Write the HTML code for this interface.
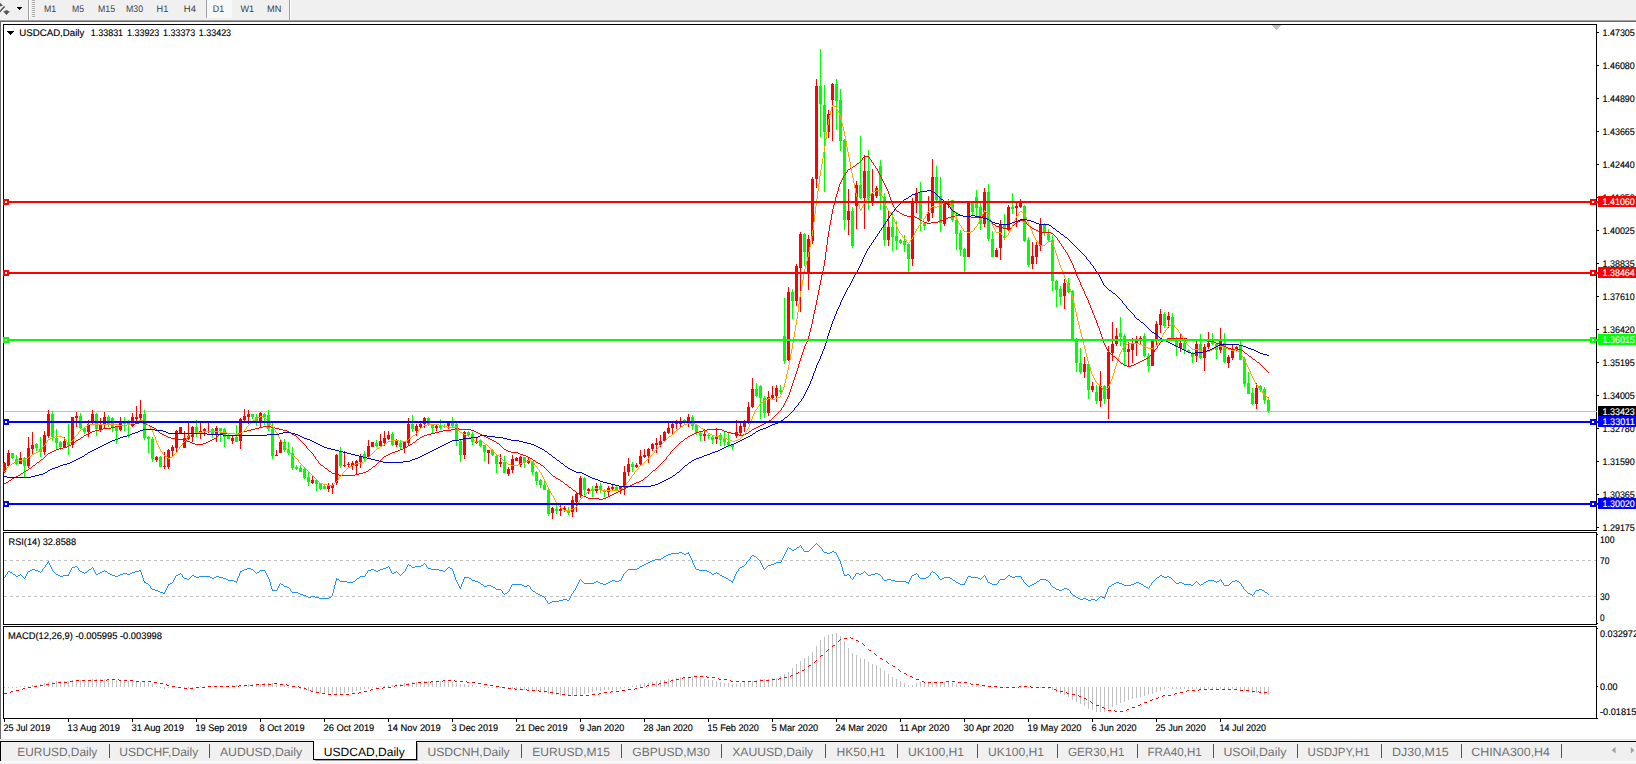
<!DOCTYPE html>
<html><head><meta charset="utf-8"><title>USDCAD,Daily</title>
<style>html,body{margin:0;padding:0;background:#fff;overflow:hidden}svg{display:block;font-family:"Liberation Sans", sans-serif}text{font-family:"Liberation Sans", sans-serif;white-space:pre;text-rendering:geometricPrecision}</style>
</head><body>
<svg width="1636" height="764" viewBox="0 0 1636 764"><rect x="0" y="0" width="1636" height="764" fill="#fff" />
<rect x="0" y="0" width="1636" height="20" fill="#f0f0f0" />
<rect x="0" y="20" width="1636" height="1" fill="#a0a0a0" />
<rect x="0" y="21" width="1636" height="1" fill="#696969" />
<g shape-rendering="crispEdges">
<rect x="0" y="22" width="1" height="717" fill="#696969" />
<rect x="3" y="24" width="1594" height="1" fill="#000" />
<rect x="3" y="24" width="1" height="507" fill="#000" />
<rect x="1596" y="24" width="1" height="507" fill="#000" />
<rect x="3" y="530" width="1594" height="1" fill="#000" />
<rect x="3" y="532" width="1594" height="1" fill="#000" />
<rect x="3" y="532" width="1" height="93" fill="#000" />
<rect x="1596" y="532" width="1" height="93" fill="#000" />
<rect x="3" y="624" width="1594" height="1" fill="#000" />
<rect x="3" y="626" width="1594" height="1" fill="#000" />
<rect x="3" y="626" width="1" height="93" fill="#000" />
<rect x="1596" y="626" width="1" height="93" fill="#000" />
<rect x="3" y="718" width="1594" height="1" fill="#000" />
</g>
<g font-family='"Liberation Sans", sans-serif'>
<rect x="1597" y="32" width="2" height="1" fill="#000" shape-rendering="crispEdges"/>
<text x="1602.5" y="36" font-size="9.6" fill="#000" stroke="#000" stroke-width="0.15" textLength="32.3" lengthAdjust="spacingAndGlyphs" >1.47305</text>
<rect x="1597" y="65" width="2" height="1" fill="#000" shape-rendering="crispEdges"/>
<text x="1602.5" y="69" font-size="9.6" fill="#000" stroke="#000" stroke-width="0.15" textLength="32.3" lengthAdjust="spacingAndGlyphs" >1.46080</text>
<rect x="1597" y="98" width="2" height="1" fill="#000" shape-rendering="crispEdges"/>
<text x="1602.5" y="102" font-size="9.6" fill="#000" stroke="#000" stroke-width="0.15" textLength="32.3" lengthAdjust="spacingAndGlyphs" >1.44890</text>
<rect x="1597" y="131" width="2" height="1" fill="#000" shape-rendering="crispEdges"/>
<text x="1602.5" y="135" font-size="9.6" fill="#000" stroke="#000" stroke-width="0.15" textLength="32.3" lengthAdjust="spacingAndGlyphs" >1.43665</text>
<rect x="1597" y="164" width="2" height="1" fill="#000" shape-rendering="crispEdges"/>
<text x="1602.5" y="168" font-size="9.6" fill="#000" stroke="#000" stroke-width="0.15" textLength="32.3" lengthAdjust="spacingAndGlyphs" >1.42440</text>
<rect x="1597" y="197" width="2" height="1" fill="#000" shape-rendering="crispEdges"/>
<text x="1602.5" y="201" font-size="9.6" fill="#000" stroke="#000" stroke-width="0.15" textLength="32.3" lengthAdjust="spacingAndGlyphs" >1.41250</text>
<rect x="1597" y="230" width="2" height="1" fill="#000" shape-rendering="crispEdges"/>
<text x="1602.5" y="234" font-size="9.6" fill="#000" stroke="#000" stroke-width="0.15" textLength="32.3" lengthAdjust="spacingAndGlyphs" >1.40025</text>
<rect x="1597" y="263" width="2" height="1" fill="#000" shape-rendering="crispEdges"/>
<text x="1602.5" y="267" font-size="9.6" fill="#000" stroke="#000" stroke-width="0.15" textLength="32.3" lengthAdjust="spacingAndGlyphs" >1.38835</text>
<rect x="1597" y="296" width="2" height="1" fill="#000" shape-rendering="crispEdges"/>
<text x="1602.5" y="300" font-size="9.6" fill="#000" stroke="#000" stroke-width="0.15" textLength="32.3" lengthAdjust="spacingAndGlyphs" >1.37610</text>
<rect x="1597" y="329" width="2" height="1" fill="#000" shape-rendering="crispEdges"/>
<text x="1602.5" y="333" font-size="9.6" fill="#000" stroke="#000" stroke-width="0.15" textLength="32.3" lengthAdjust="spacingAndGlyphs" >1.36420</text>
<rect x="1597" y="362" width="2" height="1" fill="#000" shape-rendering="crispEdges"/>
<text x="1602.5" y="366" font-size="9.6" fill="#000" stroke="#000" stroke-width="0.15" textLength="32.3" lengthAdjust="spacingAndGlyphs" >1.35195</text>
<rect x="1597" y="395" width="2" height="1" fill="#000" shape-rendering="crispEdges"/>
<text x="1602.5" y="399" font-size="9.6" fill="#000" stroke="#000" stroke-width="0.15" textLength="32.3" lengthAdjust="spacingAndGlyphs" >1.34005</text>
<rect x="1597" y="428" width="2" height="1" fill="#000" shape-rendering="crispEdges"/>
<text x="1602.5" y="432" font-size="9.6" fill="#000" stroke="#000" stroke-width="0.15" textLength="32.3" lengthAdjust="spacingAndGlyphs" >1.32780</text>
<rect x="1597" y="461" width="2" height="1" fill="#000" shape-rendering="crispEdges"/>
<text x="1602.5" y="465" font-size="9.6" fill="#000" stroke="#000" stroke-width="0.15" textLength="32.3" lengthAdjust="spacingAndGlyphs" >1.31590</text>
<rect x="1597" y="494" width="2" height="1" fill="#000" shape-rendering="crispEdges"/>
<text x="1602.5" y="498" font-size="9.6" fill="#000" stroke="#000" stroke-width="0.15" textLength="32.3" lengthAdjust="spacingAndGlyphs" >1.30365</text>
<rect x="1597" y="527" width="2" height="1" fill="#000" shape-rendering="crispEdges"/>
<text x="1602.5" y="531" font-size="9.6" fill="#000" stroke="#000" stroke-width="0.15" textLength="32.3" lengthAdjust="spacingAndGlyphs" >1.29175</text>
<rect x="1597" y="534" width="1" height="1" fill="#000" />
<rect x="1597" y="623" width="1" height="1" fill="#000" />
<rect x="1597" y="628" width="1" height="1" fill="#000" />
<rect x="1597" y="718" width="1" height="1" fill="#000" />
<text x="1600" y="543" font-size="9.6" fill="#000" stroke="#000" stroke-width="0.15" textLength="14.5" lengthAdjust="spacingAndGlyphs" >100</text>
<text x="1600" y="564" font-size="9.6" fill="#000" stroke="#000" stroke-width="0.15" textLength="9.5" lengthAdjust="spacingAndGlyphs" >70</text>
<text x="1600" y="600" font-size="9.6" fill="#000" stroke="#000" stroke-width="0.15" textLength="9.5" lengthAdjust="spacingAndGlyphs" >30</text>
<text x="1600" y="621" font-size="9.6" fill="#000" stroke="#000" stroke-width="0.15" textLength="4.6" lengthAdjust="spacingAndGlyphs" >0</text>
<text x="1600" y="637" font-size="9.6" fill="#000" stroke="#000" stroke-width="0.15" textLength="38" lengthAdjust="spacingAndGlyphs" >0.032972</text>
<rect x="1597" y="686" width="1" height="1" fill="#000" />
<text x="1600" y="690" font-size="9.6" fill="#000" stroke="#000" stroke-width="0.15" textLength="17.5" lengthAdjust="spacingAndGlyphs" >0.00</text>
<text x="1600" y="715" font-size="9.6" fill="#000" stroke="#000" stroke-width="0.15" textLength="41.4" lengthAdjust="spacingAndGlyphs" >-0.018157</text>
<g shape-rendering="crispEdges">
<rect x="4" y="411" width="1593" height="1" fill="#c0c0c0" />
</g>
<g shape-rendering="crispEdges">
<path d="M12 453h1v6h-1zM11 453h3v5h-3zM16 455h1v10h-1zM15 459h3v5h-3zM24 457h1v20h-1zM23 458h3v8h-3zM36 443h1v8h-1zM35 444h3v4h-3zM40 437h1v20h-1zM39 449h3v3h-3zM52 411h1v30h-1zM51 414h3v23h-3zM56 429h1v20h-1zM55 438h3v5h-3zM60 441h1v9h-1zM59 442h3v5h-3zM68 424h1v31h-1zM67 442h3v3h-3zM80 413h1v16h-1zM79 416h3v12h-3zM84 427h1v7h-1zM83 428h3v4h-3zM96 413h1v23h-1zM95 414h3v15h-3zM108 415h1v12h-1zM107 417h3v7h-3zM112 417h1v15h-1zM111 418h3v9h-3zM116 426h1v18h-1zM115 427h3v4h-3zM124 417h1v14h-1zM123 423h3v1h-3zM128 420h1v18h-1zM127 423h3v2h-3zM144 410h1v30h-1zM143 414h3v24h-3zM148 436h1v17h-1zM147 437h3v2h-3zM152 437h1v25h-1zM151 439h3v20h-3zM160 456h1v11h-1zM159 457h3v10h-3zM196 420h1v17h-1zM195 427h3v7h-3zM212 428h1v10h-1zM211 429h3v6h-3zM220 428h1v14h-1zM219 428h3v3h-3zM224 428h1v19h-1zM223 429h3v8h-3zM228 434h1v5h-1zM227 435h3v4h-3zM236 425h1v17h-1zM235 437h3v5h-3zM252 414h1v5h-1zM251 414h3v3h-3zM256 414h1v12h-1zM255 417h3v4h-3zM264 413h1v12h-1zM263 414h3v3h-3zM268 410h1v21h-1zM267 415h3v14h-3zM272 423h1v36h-1zM271 429h3v27h-3zM284 439h1v13h-1zM283 442h3v8h-3zM288 442h1v13h-1zM287 450h3v3h-3zM292 447h1v23h-1zM291 453h3v15h-3zM296 465h1v5h-1zM295 467h3v2h-3zM300 465h1v7h-1zM299 468h3v4h-3zM304 468h1v11h-1zM303 469h3v9h-3zM308 471h1v15h-1zM307 477h3v5h-3zM316 479h1v12h-1zM315 480h3v4h-3zM320 483h1v7h-1zM319 483h3v6h-3zM324 484h1v5h-1zM323 486h3v3h-3zM340 447h1v21h-1zM339 451h3v15h-3zM364 451h1v10h-1zM363 454h3v5h-3zM376 440h1v7h-1zM375 443h3v3h-3zM392 432h1v14h-1zM391 434h3v11h-3zM400 440h1v9h-1zM399 443h3v4h-3zM412 415h1v17h-1zM411 424h3v5h-3zM428 417h1v9h-1zM427 418h3v7h-3zM432 425h1v8h-1zM431 425h3v3h-3zM440 419h1v11h-1zM439 425h3v3h-3zM444 424h1v4h-1zM443 426h3v1h-3zM452 417h1v11h-1zM451 423h3v3h-3zM456 423h1v23h-1zM455 424h3v17h-3zM460 439h1v23h-1zM459 441h3v14h-3zM468 431h1v5h-1zM467 432h3v3h-3zM472 432h1v13h-1zM471 434h3v8h-3zM480 439h1v8h-1zM479 441h3v5h-3zM484 445h1v16h-1zM483 445h3v7h-3zM492 449h1v7h-1zM491 450h3v5h-3zM496 454h1v19h-1zM495 456h3v8h-3zM504 456h1v17h-1zM503 462h3v11h-3zM524 457h1v11h-1zM523 457h3v6h-3zM532 461h1v14h-1zM531 461h3v11h-3zM536 471h1v14h-1zM535 472h3v9h-3zM540 479h1v9h-1zM539 480h3v5h-3zM544 480h1v10h-1zM543 485h3v5h-3zM548 489h1v27h-1zM547 490h3v24h-3zM556 505h1v9h-1zM555 509h3v2h-3zM568 507h1v8h-1zM567 510h3v3h-3zM584 477h1v18h-1zM583 478h3v12h-3zM592 486h1v11h-1zM591 489h3v2h-3zM600 483h1v10h-1zM599 486h3v4h-3zM604 489h1v8h-1zM603 490h3v2h-3zM616 485h1v6h-1zM615 487h3v3h-3zM632 462h1v10h-1zM631 464h3v3h-3zM684 419h1v5h-1zM683 420h3v3h-3zM692 415h1v15h-1zM691 417h3v9h-3zM696 424h1v11h-1zM695 425h3v8h-3zM700 431h1v10h-1zM699 433h3v3h-3zM708 434h1v5h-1zM707 435h3v1h-3zM712 435h1v9h-1zM711 437h3v3h-3zM720 433h1v13h-1zM719 435h3v5h-3zM724 432h1v14h-1zM723 439h3v3h-3zM728 432h1v15h-1zM727 442h3v3h-3zM732 444h1v6h-1zM731 444h3v3h-3zM756 383h1v14h-1zM755 389h3v7h-3zM760 385h1v34h-1zM759 386h3v12h-3zM764 396h1v22h-1zM763 398h3v15h-3zM780 385h1v9h-1zM779 390h3v2h-3zM784 298h1v66h-1zM783 336h3v25h-3zM792 289h1v30h-1zM791 292h3v9h-3zM804 233h1v33h-1zM803 234h3v18h-3zM820 49h1v88h-1zM819 86h3v18h-3zM824 85h1v107h-1zM823 105h3v27h-3zM836 79h1v51h-1zM835 84h3v17h-3zM840 89h1v62h-1zM839 100h3v41h-3zM844 139h1v91h-1zM843 140h3v80h-3zM852 207h1v41h-1zM851 211h3v35h-3zM860 136h1v63h-1zM859 185h3v13h-3zM868 150h1v60h-1zM867 171h3v27h-3zM880 160h1v50h-1zM879 166h3v30h-3zM884 193h1v53h-1zM883 197h3v43h-3zM892 213h1v38h-1zM891 227h3v10h-3zM896 221h1v29h-1zM895 236h3v5h-3zM900 239h1v5h-1zM899 240h3v3h-3zM904 235h1v17h-1zM903 241h3v4h-3zM908 243h1v29h-1zM907 244h3v15h-3zM920 182h1v49h-1zM919 192h3v27h-3zM924 222h1v8h-1zM923 223h3v3h-3zM936 166h1v35h-1zM935 177h3v23h-3zM940 177h1v55h-1zM939 196h3v27h-3zM952 200h1v22h-1zM951 200h3v20h-3zM956 212h1v38h-1zM955 220h3v14h-3zM960 230h1v26h-1zM959 233h3v17h-3zM964 248h1v24h-1zM963 249h3v8h-3zM972 202h1v13h-1zM971 203h3v9h-3zM976 190h1v26h-1zM975 197h3v11h-3zM980 202h1v28h-1zM979 207h3v17h-3zM988 184h1v57h-1zM987 192h3v47h-3zM992 231h1v26h-1zM991 239h3v18h-3zM1004 214h1v26h-1zM1003 224h3v4h-3zM1012 193h1v21h-1zM1011 207h3v2h-3zM1024 205h1v37h-1zM1023 206h3v35h-3zM1028 237h1v30h-1zM1027 240h3v25h-3zM1044 223h1v13h-1zM1043 225h3v8h-3zM1048 229h1v13h-1zM1047 234h3v6h-3zM1052 235h1v56h-1zM1051 240h3v41h-3zM1056 280h1v27h-1zM1055 281h3v9h-3zM1060 286h1v19h-1zM1059 289h3v8h-3zM1068 278h1v15h-1zM1067 283h3v9h-3zM1072 290h1v51h-1zM1071 291h3v49h-3zM1076 338h1v34h-1zM1075 340h3v23h-3zM1080 348h1v26h-1zM1079 363h3v9h-3zM1088 363h1v36h-1zM1087 364h3v26h-3zM1096 385h1v19h-1zM1095 392h3v9h-3zM1104 385h1v19h-1zM1103 386h3v13h-3zM1120 317h1v29h-1zM1119 333h3v4h-3zM1124 334h1v32h-1zM1123 336h3v16h-3zM1144 333h1v24h-1zM1143 336h3v20h-3zM1148 353h1v19h-1zM1147 356h3v10h-3zM1164 312h1v16h-1zM1163 314h3v12h-3zM1172 313h1v28h-1zM1171 317h3v21h-3zM1176 337h1v19h-1zM1175 338h3v9h-3zM1184 341h1v13h-1zM1183 343h3v7h-3zM1188 349h1v4h-1zM1187 350h3v2h-3zM1192 352h1v11h-1zM1191 353h3v4h-3zM1200 334h1v25h-1zM1199 344h3v14h-3zM1212 333h1v12h-1zM1211 342h3v2h-3zM1216 343h1v16h-1zM1215 344h3v6h-3zM1224 333h1v30h-1zM1223 343h3v19h-3zM1240 341h1v19h-1zM1239 345h3v15h-3zM1244 357h1v30h-1zM1243 359h3v25h-3zM1248 372h1v22h-1zM1247 383h3v11h-3zM1252 388h1v17h-1zM1251 393h3v11h-3zM1260 385h1v7h-1zM1259 386h3v4h-3zM1264 387h1v17h-1zM1263 389h3v11h-3zM1268 397h1v16h-1zM1267 400h3v11h-3z" fill="#00ff00"/>
<path d="M4 462h1v11h-1zM3 463h3v9h-3zM8 450h1v17h-1zM7 453h3v13h-3zM20 452h1v12h-1zM19 458h3v6h-3zM28 437h1v31h-1zM27 448h3v18h-3zM32 432h1v23h-1zM31 445h3v4h-3zM44 431h1v24h-1zM43 435h3v17h-3zM48 410h1v28h-1zM47 414h3v22h-3zM64 437h1v11h-1zM63 441h3v6h-3zM72 417h1v31h-1zM71 417h3v28h-3zM76 412h1v15h-1zM75 416h3v2h-3zM88 420h1v17h-1zM87 424h3v8h-3zM92 410h1v14h-1zM91 414h3v8h-3zM100 418h1v14h-1zM99 424h3v6h-3zM104 412h1v17h-1zM103 417h3v8h-3zM120 417h1v14h-1zM119 422h3v8h-3zM132 413h1v14h-1zM131 417h3v9h-3zM136 406h1v15h-1zM135 417h3v2h-3zM140 400h1v20h-1zM139 414h3v4h-3zM156 456h1v6h-1zM155 457h3v3h-3zM164 452h1v17h-1zM163 466h3v1h-3zM168 449h1v20h-1zM167 450h3v17h-3zM172 445h1v12h-1zM171 447h3v4h-3zM176 430h1v23h-1zM175 431h3v17h-3zM180 427h1v6h-1zM179 427h3v6h-3zM184 431h1v17h-1zM183 438h3v10h-3zM188 423h1v17h-1zM187 436h3v3h-3zM192 426h1v16h-1zM191 427h3v10h-3zM200 423h1v16h-1zM199 431h3v3h-3zM204 428h1v8h-1zM203 429h3v3h-3zM208 423h1v10h-1zM207 431h3v1h-3zM216 426h1v16h-1zM215 428h3v7h-3zM232 435h1v9h-1zM231 438h3v3h-3zM240 418h1v31h-1zM239 419h3v22h-3zM244 409h1v12h-1zM243 416h3v4h-3zM248 410h1v14h-1zM247 414h3v3h-3zM260 412h1v16h-1zM259 413h3v8h-3zM276 450h1v6h-1zM275 455h3v1h-3zM280 439h1v14h-1zM279 442h3v11h-3zM312 476h1v8h-1zM311 480h3v3h-3zM328 483h1v9h-1zM327 486h3v3h-3zM332 483h1v11h-1zM331 485h3v3h-3zM336 454h1v31h-1zM335 455h3v28h-3zM344 451h1v16h-1zM343 465h3v1h-3zM348 462h1v6h-1zM347 464h3v1h-3zM352 461h1v9h-1zM351 463h3v3h-3zM356 460h1v14h-1zM355 461h3v5h-3zM360 454h1v14h-1zM359 456h3v6h-3zM368 440h1v18h-1zM367 446h3v11h-3zM372 442h1v5h-1zM371 442h3v5h-3zM380 434h1v13h-1zM379 441h3v5h-3zM384 431h1v15h-1zM383 438h3v5h-3zM388 431h1v9h-1zM387 435h3v4h-3zM396 439h1v8h-1zM395 441h3v4h-3zM404 441h1v12h-1zM403 442h3v6h-3zM408 418h1v27h-1zM407 424h3v19h-3zM416 424h1v12h-1zM415 426h3v5h-3zM420 423h1v5h-1zM419 424h3v3h-3zM424 417h1v11h-1zM423 418h3v6h-3zM436 425h1v6h-1zM435 426h3v2h-3zM448 423h1v6h-1zM447 423h3v3h-3zM464 431h1v28h-1zM463 432h3v23h-3zM476 437h1v7h-1zM475 441h3v2h-3zM488 450h1v14h-1zM487 450h3v3h-3zM500 454h1v13h-1zM499 462h3v2h-3zM508 467h1v9h-1zM507 469h3v5h-3zM512 455h1v18h-1zM511 459h3v11h-3zM516 457h1v4h-1zM515 458h3v3h-3zM520 456h1v11h-1zM519 457h3v8h-3zM528 458h1v6h-1zM527 460h3v3h-3zM552 507h1v12h-1zM551 508h3v5h-3zM560 505h1v11h-1zM559 509h3v2h-3zM564 506h1v6h-1zM563 508h3v2h-3zM572 496h1v21h-1zM571 500h3v12h-3zM576 493h1v19h-1zM575 494h3v8h-3zM580 476h1v22h-1zM579 478h3v17h-3zM588 488h1v6h-1zM587 489h3v2h-3zM596 483h1v10h-1zM595 486h3v5h-3zM608 486h1v10h-1zM607 488h3v4h-3zM612 485h1v5h-1zM611 487h3v2h-3zM620 486h1v8h-1zM619 487h3v3h-3zM624 466h1v29h-1zM623 472h3v16h-3zM628 458h1v18h-1zM627 464h3v8h-3zM636 463h1v5h-1zM635 465h3v2h-3zM640 450h1v15h-1zM639 456h3v8h-3zM644 449h1v9h-1zM643 455h3v2h-3zM648 448h1v15h-1zM647 449h3v7h-3zM652 443h1v8h-1zM651 444h3v5h-3zM656 438h1v15h-1zM655 443h3v2h-3zM660 435h1v12h-1zM659 441h3v4h-3zM664 431h1v10h-1zM663 432h3v9h-3zM668 423h1v11h-1zM667 428h3v5h-3zM672 423h1v11h-1zM671 424h3v4h-3zM676 420h1v9h-1zM675 423h3v1h-3zM680 417h1v10h-1zM679 423h3v1h-3zM688 414h1v13h-1zM687 417h3v5h-3zM704 429h1v12h-1zM703 434h3v2h-3zM716 428h1v16h-1zM715 436h3v3h-3zM736 420h1v18h-1zM735 432h3v4h-3zM740 423h1v12h-1zM739 426h3v7h-3zM744 420h1v12h-1zM743 423h3v4h-3zM748 402h1v22h-1zM747 407h3v16h-3zM752 378h1v30h-1zM751 389h3v18h-3zM768 391h1v25h-1zM767 397h3v16h-3zM772 386h1v14h-1zM771 395h3v3h-3zM776 385h1v17h-1zM775 388h3v8h-3zM788 287h1v74h-1zM787 292h3v68h-3zM796 264h1v42h-1zM795 266h3v35h-3zM800 232h1v80h-1zM799 234h3v34h-3zM808 235h1v55h-1zM807 239h3v34h-3zM812 177h1v67h-1zM811 179h3v62h-3zM816 79h1v109h-1zM815 86h3v93h-3zM828 110h1v28h-1zM827 114h3v18h-3zM832 83h1v58h-1zM831 84h3v16h-3zM848 189h1v46h-1zM847 211h3v9h-3zM856 181h1v48h-1zM855 185h3v21h-3zM864 155h1v74h-1zM863 171h3v27h-3zM872 169h1v37h-1zM871 194h3v7h-3zM876 186h1v12h-1zM875 188h3v8h-3zM888 210h1v36h-1zM887 227h3v13h-3zM912 198h1v68h-1zM911 203h3v56h-3zM916 188h1v25h-1zM915 193h3v10h-3zM928 196h1v26h-1zM927 213h3v8h-3zM932 159h1v59h-1zM931 177h3v36h-3zM944 202h1v24h-1zM943 203h3v21h-3zM948 199h1v9h-1zM947 203h3v2h-3zM968 202h1v55h-1zM967 202h3v55h-3zM984 188h1v39h-1zM983 192h3v32h-3zM996 248h1v9h-1zM995 250h3v7h-3zM1000 220h1v40h-1zM999 225h3v23h-3zM1008 205h1v26h-1zM1007 207h3v23h-3zM1016 203h1v24h-1zM1015 206h3v2h-3zM1020 199h1v9h-1zM1019 202h3v5h-3zM1032 242h1v27h-1zM1031 256h3v8h-3zM1036 242h1v22h-1zM1035 245h3v12h-3zM1040 218h1v33h-1zM1039 225h3v21h-3zM1064 279h1v30h-1zM1063 283h3v13h-3zM1084 357h1v21h-1zM1083 364h3v8h-3zM1092 382h1v10h-1zM1091 386h3v4h-3zM1100 371h1v36h-1zM1099 386h3v15h-3zM1108 346h1v73h-1zM1107 352h3v47h-3zM1112 322h1v39h-1zM1111 344h3v9h-3zM1116 328h1v18h-1zM1115 336h3v8h-3zM1128 342h1v24h-1zM1127 349h3v3h-3zM1132 338h1v25h-1zM1131 343h3v7h-3zM1136 336h1v20h-1zM1135 341h3v3h-3zM1140 336h1v8h-1zM1139 338h3v2h-3zM1152 340h1v26h-1zM1151 341h3v25h-3zM1156 321h1v24h-1zM1155 324h3v16h-3zM1160 309h1v24h-1zM1159 314h3v11h-3zM1168 312h1v16h-1zM1167 316h3v4h-3zM1180 334h1v18h-1zM1179 343h3v5h-3zM1196 341h1v21h-1zM1195 344h3v12h-3zM1204 344h1v27h-1zM1203 347h3v11h-3zM1208 332h1v17h-1zM1207 343h3v4h-3zM1220 328h1v25h-1zM1219 341h3v9h-3zM1228 355h1v13h-1zM1227 357h3v6h-3zM1232 344h1v16h-1zM1231 349h3v9h-3zM1236 346h1v5h-1zM1235 347h3v3h-3zM1256 383h1v26h-1zM1255 388h3v16h-3z" fill="#ff0000"/>
</g>
<path d="M4 483h2v1h-2zM6 482h2v1h-2zM8 481h1v1h-1zM9 480h2v1h-2zM11 479h1v1h-1zM12 478h2v1h-2zM14 477h2v1h-2zM16 476h2v1h-2zM18 475h2v1h-2zM20 474h1v1h-1zM21 473h2v1h-2zM23 472h1v1h-1zM24 471h2v1h-2zM26 470h2v1h-2zM28 469h1v1h-1zM29 468h2v1h-2zM31 467h1v1h-1zM32 466h1v1h-1zM33 465h2v1h-2zM35 464h1v1h-1zM36 463h1v1h-1zM37 462h2v1h-2zM39 461h1v1h-1zM40 460h1v1h-1zM41 459h2v1h-2zM43 458h1v1h-1zM44 457h1v1h-1zM45 456h1v1h-1zM46 455h1v1h-1zM47 454h1v1h-1zM48 453h2v1h-2zM50 452h2v1h-2zM52 451h2v1h-2zM54 450h2v1h-2zM56 449h3v1h-3zM59 448h4v1h-4zM63 447h4v1h-4zM67 446h2v1h-2zM69 445h2v1h-2zM71 444h1v1h-1zM72 443h1v1h-1zM73 442h2v1h-2zM75 441h1v1h-1zM76 440h2v1h-2zM78 439h2v1h-2zM80 438h1v1h-1zM81 437h2v1h-2zM83 436h1v1h-1zM84 435h2v1h-2zM86 434h2v1h-2zM88 433h2v1h-2zM90 432h2v1h-2zM92 431h3v1h-3zM95 430h4v1h-4zM99 429h4v1h-4zM103 428h8v1h-8zM111 427h4v1h-4zM115 426h4v1h-4zM119 425h8v1h-8zM127 424h8v1h-8zM135 423h4v1h-4zM139 422h4v1h-4zM143 423h3v1h-3zM146 424h2v1h-2zM148 425h2v1h-2zM150 426h2v1h-2zM152 427h2v1h-2zM154 428h2v1h-2zM156 429h1v1h-1zM157 430h1v1h-1zM158 431h1v1h-1zM159 432h1v1h-1zM160 433h2v1h-2zM162 434h2v1h-2zM164 435h2v1h-2zM166 436h2v1h-2zM168 437h3v1h-3zM171 438h4v1h-4zM175 439h8v1h-8zM183 440h4v1h-4zM187 441h3v1h-3zM190 442h2v1h-2zM192 443h3v1h-3zM195 444h8v1h-8zM203 443h3v1h-3zM206 442h2v1h-2zM208 441h2v1h-2zM210 440h2v1h-2zM212 439h2v1h-2zM214 438h2v1h-2zM216 437h1v1h-1zM217 436h1v1h-1zM218 435h1v1h-1zM219 434h1v1h-1zM220 433h15v1h-15zM235 434h3v1h-3zM238 433h2v1h-2zM240 432h3v1h-3zM243 431h4v1h-4zM247 430h4v1h-4zM251 429h4v1h-4zM255 428h4v1h-4zM259 427h4v1h-4zM263 426h8v1h-8zM271 427h4v1h-4zM275 428h4v1h-4zM279 429h4v1h-4zM283 430h4v1h-4zM287 431h2v1h-2zM289 432h2v1h-2zM291 433h1v1h-1zM292 434h2v1h-2zM294 435h2v1h-2zM296 436h1v1h-1zM297 437h1v1h-1zM298 438h1v1h-1zM299 439h1v1h-1zM300 440h1v1h-1zM301 441h1v1h-1zM302 442h1v1h-1zM303 443h1v1h-1zM304 444h1v1h-1zM305 445h1v1h-1zM306 446h1v2h-1zM307 448h1v1h-1zM308 449h1v1h-1zM309 450h1v1h-1zM310 451h1v1h-1zM311 452h1v1h-1zM312 453h1v1h-1zM313 454h1v2h-1zM314 456h1v1h-1zM315 457h1v2h-1zM316 459h1v1h-1zM317 460h1v1h-1zM318 461h1v2h-1zM319 463h1v1h-1zM320 464h1v1h-1zM321 465h2v1h-2zM323 466h1v1h-1zM324 467h1v1h-1zM325 468h2v1h-2zM327 469h1v1h-1zM328 470h1v1h-1zM329 471h2v1h-2zM331 472h1v1h-1zM332 473h3v1h-3zM335 474h4v1h-4zM339 475h16v1h-16zM355 474h4v1h-4zM359 473h4v1h-4zM363 472h3v1h-3zM366 471h2v1h-2zM368 470h1v1h-1zM369 469h2v1h-2zM371 468h1v1h-1zM372 467h1v1h-1zM373 466h2v1h-2zM375 465h1v1h-1zM376 464h1v1h-1zM377 463h1v1h-1zM378 462h1v1h-1zM379 461h1v1h-1zM380 460h1v1h-1zM381 459h1v1h-1zM382 458h1v1h-1zM383 457h1v1h-1zM384 456h2v1h-2zM386 455h2v1h-2zM388 454h2v1h-2zM390 453h2v1h-2zM392 452h3v1h-3zM395 451h3v1h-3zM398 450h2v1h-2zM400 449h3v1h-3zM403 448h2v1h-2zM405 447h2v1h-2zM407 446h1v1h-1zM408 445h2v1h-2zM410 444h2v1h-2zM412 443h1v1h-1zM413 442h2v1h-2zM415 441h1v1h-1zM416 440h1v1h-1zM417 439h2v1h-2zM419 438h1v1h-1zM420 437h2v1h-2zM422 436h2v1h-2zM424 435h3v1h-3zM427 434h4v1h-4zM431 433h4v1h-4zM435 432h4v1h-4zM439 431h4v1h-4zM443 430h8v1h-8zM451 429h4v1h-4zM455 428h4v1h-4zM459 429h12v1h-12zM471 430h3v1h-3zM474 431h2v1h-2zM476 432h2v1h-2zM478 433h2v1h-2zM480 434h2v1h-2zM482 435h2v1h-2zM484 436h2v1h-2zM486 437h2v1h-2zM488 438h2v1h-2zM490 439h2v1h-2zM492 440h2v1h-2zM494 441h2v1h-2zM496 442h1v1h-1zM497 443h2v1h-2zM499 444h1v1h-1zM500 445h1v1h-1zM501 446h1v1h-1zM502 447h1v1h-1zM503 448h1v1h-1zM504 449h2v1h-2zM506 450h2v1h-2zM508 451h3v1h-3zM511 452h7v1h-7zM518 453h2v1h-2zM520 454h3v1h-3zM523 455h3v1h-3zM526 456h2v1h-2zM528 457h2v1h-2zM530 458h2v1h-2zM532 459h1v1h-1zM533 460h2v1h-2zM535 461h1v1h-1zM536 462h2v1h-2zM538 463h2v1h-2zM540 464h1v1h-1zM541 465h2v1h-2zM543 466h1v1h-1zM544 467h1v1h-1zM545 468h1v1h-1zM546 469h1v1h-1zM547 470h1v1h-1zM548 471h1v1h-1zM549 472h1v1h-1zM550 473h1v1h-1zM551 474h1v1h-1zM552 475h1v1h-1zM553 476h2v1h-2zM555 477h1v1h-1zM556 478h2v1h-2zM558 479h2v1h-2zM560 480h1v1h-1zM561 481h2v1h-2zM563 482h1v1h-1zM564 483h1v1h-1zM565 484h2v1h-2zM567 485h1v1h-1zM568 486h1v1h-1zM569 487h2v1h-2zM571 488h1v1h-1zM572 489h1v1h-1zM573 490h2v1h-2zM575 491h1v1h-1zM576 492h1v1h-1zM577 493h2v1h-2zM579 494h1v1h-1zM580 495h3v1h-3zM583 496h3v1h-3zM586 497h2v1h-2zM588 498h11v1h-11zM599 499h4v1h-4zM603 498h3v1h-3zM606 497h2v1h-2zM608 496h2v1h-2zM610 495h2v1h-2zM612 494h2v1h-2zM614 493h2v1h-2zM616 492h2v1h-2zM618 491h2v1h-2zM620 490h2v1h-2zM622 489h2v1h-2zM624 488h2v1h-2zM626 487h2v1h-2zM628 486h2v1h-2zM630 485h2v1h-2zM632 484h2v1h-2zM634 483h2v1h-2zM636 482h3v1h-3zM639 481h2v1h-2zM641 480h2v1h-2zM643 479h1v1h-1zM644 478h1v1h-1zM645 477h2v1h-2zM647 476h1v1h-1zM648 475h1v1h-1zM649 474h1v1h-1zM650 473h1v1h-1zM651 472h1v1h-1zM652 471h1v1h-1zM653 470h2v1h-2zM655 469h1v1h-1zM656 468h1v1h-1zM657 467h1v1h-1zM658 466h1v1h-1zM659 465h1v1h-1zM660 464h1v1h-1zM661 463h1v1h-1zM662 462h1v1h-1zM663 461h1v1h-1zM664 460h1v1h-1zM665 459h1v1h-1zM666 457h1v2h-1zM667 456h1v1h-1zM668 455h1v1h-1zM669 454h1v1h-1zM670 452h1v2h-1zM671 451h1v1h-1zM672 450h1v1h-1zM673 449h1v1h-1zM674 448h1v1h-1zM675 447h1v1h-1zM676 446h1v1h-1zM677 445h1v1h-1zM678 444h1v1h-1zM679 443h1v1h-1zM680 442h1v1h-1zM681 441h2v1h-2zM683 440h1v1h-1zM684 439h1v1h-1zM685 438h2v1h-2zM687 437h1v1h-1zM688 436h2v1h-2zM690 435h2v1h-2zM692 434h2v1h-2zM694 433h2v1h-2zM696 432h3v1h-3zM699 431h4v1h-4zM703 430h4v1h-4zM707 429h15v1h-15zM722 430h2v1h-2zM724 431h3v1h-3zM727 432h4v1h-4zM731 433h4v1h-4zM735 434h4v1h-4zM739 435h4v1h-4zM743 434h3v1h-3zM746 433h2v1h-2zM748 432h1v1h-1zM749 431h2v1h-2zM751 430h1v1h-1zM752 429h2v1h-2zM754 428h2v1h-2zM756 427h2v1h-2zM758 426h2v1h-2zM760 425h2v1h-2zM762 424h2v1h-2zM764 423h2v1h-2zM766 422h2v1h-2zM768 421h1v1h-1zM769 420h2v1h-2zM771 419h1v1h-1zM772 418h1v1h-1zM773 417h1v1h-1zM774 416h1v1h-1zM775 415h1v1h-1zM776 414h1v1h-1zM777 413h1v1h-1zM778 412h1v1h-1zM779 411h1v1h-1zM780 410h1v1h-1zM781 408h1v2h-1zM782 407h1v1h-1zM783 405h1v2h-1zM784 403h1v2h-1zM785 401h1v2h-1zM786 399h1v2h-1zM787 397h1v2h-1zM788 395h1v2h-1zM789 392h1v3h-1zM790 389h1v3h-1zM791 386h1v3h-1zM792 383h1v3h-1zM793 380h1v3h-1zM794 377h1v3h-1zM795 374h1v3h-1zM796 371h1v3h-1zM797 368h1v3h-1zM798 364h1v4h-1zM799 361h1v3h-1zM800 358h1v3h-1zM801 355h1v3h-1zM802 352h1v3h-1zM803 349h1v3h-1zM804 346h1v3h-1zM805 344h1v2h-1zM806 342h1v2h-1zM807 340h1v2h-1zM808 336h1v4h-1zM809 332h1v4h-1zM810 328h1v4h-1zM811 324h1v4h-1zM812 319h1v5h-1zM813 314h1v5h-1zM814 310h1v4h-1zM815 305h1v5h-1zM816 300h1v5h-1zM817 295h1v5h-1zM818 290h1v5h-1zM819 285h1v5h-1zM820 280h1v5h-1zM821 275h1v5h-1zM822 271h1v4h-1zM823 266h1v5h-1zM824 260h1v6h-1zM825 252h1v8h-1zM826 245h1v7h-1zM827 237h1v8h-1zM828 231h1v6h-1zM829 225h1v6h-1zM830 220h1v5h-1zM831 214h1v6h-1zM832 209h1v5h-1zM833 205h1v4h-1zM834 201h1v4h-1zM835 197h1v4h-1zM836 194h1v3h-1zM837 191h1v3h-1zM838 187h1v4h-1zM839 184h1v3h-1zM840 182h1v2h-1zM841 180h1v2h-1zM842 178h1v2h-1zM843 176h1v2h-1zM844 175h1v1h-1zM845 173h1v2h-1zM846 172h1v1h-1zM847 170h1v2h-1zM848 169h2v1h-2zM850 168h2v1h-2zM852 167h1v1h-1zM853 166h2v1h-2zM855 165h1v1h-1zM856 164h1v1h-1zM857 163h2v1h-2zM859 162h1v1h-1zM860 161h1v1h-1zM861 160h1v1h-1zM862 158h1v2h-1zM863 157h1v1h-1zM864 156h5v1h-5zM869 157h1v2h-1zM870 159h1v1h-1zM871 160h1v2h-1zM872 162h1v1h-1zM873 163h1v2h-1zM874 165h1v1h-1zM875 166h1v2h-1zM876 168h1v1h-1zM877 169h1v2h-1zM878 171h1v2h-1zM879 173h1v2h-1zM880 175h1v2h-1zM881 177h1v2h-1zM882 179h1v2h-1zM883 181h1v2h-1zM884 183h1v2h-1zM885 185h1v2h-1zM886 187h1v2h-1zM887 189h1v2h-1zM888 191h1v3h-1zM889 194h1v3h-1zM890 197h1v3h-1zM891 200h1v3h-1zM892 203h1v2h-1zM893 205h1v2h-1zM894 207h1v1h-1zM895 208h1v2h-1zM896 210h1v1h-1zM897 211h2v1h-2zM899 212h1v1h-1zM900 213h2v1h-2zM902 214h2v1h-2zM904 215h3v1h-3zM907 216h8v1h-8zM915 217h2v1h-2zM917 218h2v1h-2zM919 219h1v1h-1zM920 220h2v1h-2zM922 221h2v1h-2zM924 222h3v1h-3zM927 223h4v1h-4zM931 222h7v1h-7zM938 221h2v1h-2zM940 220h3v1h-3zM943 219h3v1h-3zM946 218h2v1h-2zM948 217h3v1h-3zM951 216h4v1h-4zM955 215h8v1h-8zM963 216h8v1h-8zM971 217h8v1h-8zM979 216h4v1h-4zM983 217h3v1h-3zM986 218h2v1h-2zM988 219h1v1h-1zM989 220h1v1h-1zM990 221h1v1h-1zM991 222h1v1h-1zM992 223h1v1h-1zM993 224h2v1h-2zM995 225h1v1h-1zM996 226h3v1h-3zM999 227h4v1h-4zM1003 228h4v1h-4zM1007 229h2v1h-2zM1009 228h2v1h-2zM1011 227h1v1h-1zM1012 226h1v1h-1zM1013 225h1v1h-1zM1014 224h1v1h-1zM1015 223h1v1h-1zM1016 222h2v1h-2zM1018 221h2v1h-2zM1020 220h5v1h-5zM1025 221h1v1h-1zM1026 222h1v2h-1zM1027 224h1v1h-1zM1028 225h1v1h-1zM1029 226h2v1h-2zM1031 227h1v1h-1zM1032 228h2v1h-2zM1034 229h2v1h-2zM1036 230h2v1h-2zM1038 231h2v1h-2zM1040 232h11v1h-11zM1051 233h2v1h-2zM1053 234h1v1h-1zM1054 235h1v1h-1zM1055 236h1v1h-1zM1056 237h1v1h-1zM1057 238h1v2h-1zM1058 240h1v1h-1zM1059 241h1v2h-1zM1060 243h1v1h-1zM1061 244h1v2h-1zM1062 246h1v1h-1zM1063 247h1v2h-1zM1064 249h1v1h-1zM1065 250h1v2h-1zM1066 252h1v1h-1zM1067 253h1v2h-1zM1068 255h1v2h-1zM1069 257h1v2h-1zM1070 259h1v2h-1zM1071 261h1v2h-1zM1072 263h1v2h-1zM1073 265h1v3h-1zM1074 268h1v2h-1zM1075 270h1v3h-1zM1076 273h1v3h-1zM1077 276h1v2h-1zM1078 278h1v2h-1zM1079 280h1v2h-1zM1080 282h1v3h-1zM1081 285h1v2h-1zM1082 287h1v2h-1zM1083 289h1v2h-1zM1084 291h1v3h-1zM1085 294h1v2h-1zM1086 296h1v2h-1zM1087 298h1v2h-1zM1088 300h1v3h-1zM1089 303h1v2h-1zM1090 305h1v3h-1zM1091 308h1v2h-1zM1092 310h1v3h-1zM1093 313h1v2h-1zM1094 315h1v3h-1zM1095 318h1v2h-1zM1096 320h1v3h-1zM1097 323h1v3h-1zM1098 326h1v2h-1zM1099 328h1v3h-1zM1100 331h1v3h-1zM1101 334h1v3h-1zM1102 337h1v3h-1zM1103 340h1v3h-1zM1104 343h1v2h-1zM1105 345h1v2h-1zM1106 347h1v2h-1zM1107 349h1v2h-1zM1108 351h1v1h-1zM1109 352h1v1h-1zM1110 353h1v1h-1zM1111 354h1v1h-1zM1112 355h1v1h-1zM1113 356h2v1h-2zM1115 357h1v1h-1zM1116 358h1v1h-1zM1117 359h1v1h-1zM1118 360h1v1h-1zM1119 361h1v1h-1zM1120 362h1v1h-1zM1121 363h2v1h-2zM1123 364h1v1h-1zM1124 365h3v1h-3zM1127 366h4v1h-4zM1131 365h3v1h-3zM1134 364h2v1h-2zM1136 363h2v1h-2zM1138 362h2v1h-2zM1140 361h2v1h-2zM1142 360h2v1h-2zM1144 359h2v1h-2zM1146 358h2v1h-2zM1148 357h1v1h-1zM1149 356h1v1h-1zM1150 355h1v1h-1zM1151 354h1v1h-1zM1152 353h1v1h-1zM1153 352h1v1h-1zM1154 350h1v2h-1zM1155 349h1v1h-1zM1156 348h1v1h-1zM1157 346h1v2h-1zM1158 345h1v1h-1zM1159 343h1v2h-1zM1160 342h1v1h-1zM1161 341h2v1h-2zM1163 340h1v1h-1zM1164 339h3v1h-3zM1167 338h20v1h-20zM1187 339h8v1h-8zM1195 340h12v1h-12zM1207 341h7v1h-7zM1214 342h2v1h-2zM1216 343h3v1h-3zM1219 344h3v1h-3zM1222 345h2v1h-2zM1224 346h2v1h-2zM1226 347h2v1h-2zM1228 348h3v1h-3zM1231 349h10v1h-10zM1241 350h2v1h-2zM1243 351h1v1h-1zM1244 352h1v1h-1zM1245 353h2v1h-2zM1247 354h1v1h-1zM1248 355h1v1h-1zM1249 356h2v1h-2zM1251 357h1v1h-1zM1252 358h1v1h-1zM1253 359h2v1h-2zM1255 360h1v1h-1zM1256 361h1v1h-1zM1257 362h2v1h-2zM1259 363h1v1h-1zM1260 364h1v1h-1zM1261 365h1v1h-1zM1262 366h1v1h-1zM1263 367h1v1h-1zM1264 368h1v1h-1zM1265 369h1v1h-1zM1266 370h1v1h-1zM1267 371h1v1h-1zM1268 372h1v1h-1z" fill="#ff0000" shape-rendering="crispEdges"/>
<path d="M4 471h1v1h-1zM5 470h1v1h-1zM6 468h1v2h-1zM7 467h1v1h-1zM8 466h1v1h-1zM9 465h2v1h-2zM11 464h1v1h-1zM12 463h2v1h-2zM14 462h2v1h-2zM16 461h3v1h-3zM19 460h4v1h-4zM23 459h3v1h-3zM26 458h2v1h-2zM28 457h1v1h-1zM29 456h2v1h-2zM31 455h1v1h-1zM32 454h2v1h-2zM34 453h2v1h-2zM36 452h2v1h-2zM38 451h2v1h-2zM40 450h1v1h-1zM41 449h1v1h-1zM42 447h1v2h-1zM43 446h1v1h-1zM44 445h1v1h-1zM45 443h1v2h-1zM46 442h1v1h-1zM47 440h1v2h-1zM48 439h2v1h-2zM50 438h2v1h-2zM52 437h3v1h-3zM55 436h7v1h-7zM62 437h2v1h-2zM64 438h1v1h-1zM65 439h1v1h-1zM66 440h1v2h-1zM67 442h1v1h-1zM68 443h1v1h-1zM69 442h2v1h-2zM71 441h1v1h-1zM72 440h1v1h-1zM73 439h1v1h-1zM74 437h1v2h-1zM75 436h1v1h-1zM76 435h1v1h-1zM77 434h1v1h-1zM78 432h1v2h-1zM79 431h1v1h-1zM80 430h1v1h-1zM81 429h2v1h-2zM83 428h1v1h-1zM84 427h1v1h-1zM85 426h2v1h-2zM87 425h1v1h-1zM88 424h31v1h-31zM119 425h8v1h-8zM127 424h4v1h-4zM131 423h3v1h-3zM134 422h2v1h-2zM136 421h3v1h-3zM139 420h4v1h-4zM143 421h2v1h-2zM145 422h1v1h-1zM146 423h1v1h-1zM147 424h1v1h-1zM148 425h1v1h-1zM149 426h1v1h-1zM150 427h1v2h-1zM151 429h1v1h-1zM152 430h1v2h-1zM153 432h1v3h-1zM154 435h1v2h-1zM155 437h1v3h-1zM156 440h1v3h-1zM157 443h1v2h-1zM158 445h1v2h-1zM159 447h1v2h-1zM160 449h1v2h-1zM161 451h1v1h-1zM162 452h1v2h-1zM163 454h1v1h-1zM164 455h1v1h-1zM165 456h2v1h-2zM167 457h1v1h-1zM168 458h2v1h-2zM170 457h2v1h-2zM172 456h1v1h-1zM173 455h1v1h-1zM174 454h1v1h-1zM175 453h1v1h-1zM176 452h1v1h-1zM177 450h1v2h-1zM178 449h1v1h-1zM179 447h1v2h-1zM180 446h1v1h-1zM181 445h1v1h-1zM182 443h1v2h-1zM183 442h1v1h-1zM184 441h1v1h-1zM185 440h1v1h-1zM186 438h1v2h-1zM187 437h1v1h-1zM188 436h1v1h-1zM189 435h2v1h-2zM191 434h1v1h-1zM192 433h3v1h-3zM195 432h8v1h-8zM203 431h16v1h-16zM219 432h8v1h-8zM227 433h8v1h-8zM235 434h4v1h-4zM239 433h2v1h-2zM241 432h2v1h-2zM243 431h1v1h-1zM244 430h1v1h-1zM245 429h1v1h-1zM246 427h1v2h-1zM247 426h1v1h-1zM248 425h1v1h-1zM249 424h1v1h-1zM250 423h1v1h-1zM251 422h1v1h-1zM252 421h1v1h-1zM253 420h2v1h-2zM255 419h1v1h-1zM256 418h2v1h-2zM258 417h2v1h-2zM260 416h3v1h-3zM263 417h2v1h-2zM265 418h1v1h-1zM266 419h1v1h-1zM267 420h1v1h-1zM268 421h1v1h-1zM269 422h1v1h-1zM270 423h1v2h-1zM271 425h1v1h-1zM272 426h1v1h-1zM273 427h1v2h-1zM274 429h1v1h-1zM275 430h1v2h-1zM276 432h1v1h-1zM277 433h1v2h-1zM278 435h1v2h-1zM279 437h1v2h-1zM280 439h1v1h-1zM281 440h1v2h-1zM282 442h1v1h-1zM283 443h1v2h-1zM284 445h1v1h-1zM285 446h1v2h-1zM286 448h1v1h-1zM287 449h1v2h-1zM288 451h1v1h-1zM289 452h1v1h-1zM290 453h1v1h-1zM291 454h1v1h-1zM292 455h1v1h-1zM293 456h2v1h-2zM295 457h1v1h-1zM296 458h1v1h-1zM297 459h1v1h-1zM298 460h1v2h-1zM299 462h1v1h-1zM300 463h1v1h-1zM301 464h1v1h-1zM302 465h1v1h-1zM303 466h1v1h-1zM304 467h1v1h-1zM305 468h1v1h-1zM306 469h1v1h-1zM307 470h1v1h-1zM308 471h1v1h-1zM309 472h1v1h-1zM310 473h1v1h-1zM311 474h1v1h-1zM312 475h1v1h-1zM313 476h1v1h-1zM314 477h1v1h-1zM315 478h1v1h-1zM316 479h1v1h-1zM317 480h1v1h-1zM318 481h1v1h-1zM319 482h1v1h-1zM320 483h3v1h-3zM323 484h4v1h-4zM327 485h6v1h-6zM333 484h1v1h-1zM334 483h1v1h-1zM335 482h1v1h-1zM336 481h1v1h-1zM337 480h1v1h-1zM338 478h1v2h-1zM339 477h1v1h-1zM340 476h1v1h-1zM341 475h1v1h-1zM342 473h1v2h-1zM343 472h1v1h-1zM344 471h1v1h-1zM345 470h1v1h-1zM346 469h1v1h-1zM347 468h1v1h-1zM348 467h2v1h-2zM350 466h2v1h-2zM352 465h2v1h-2zM354 464h2v1h-2zM356 463h6v1h-6zM362 462h2v1h-2zM364 461h1v1h-1zM365 460h1v1h-1zM366 459h1v1h-1zM367 458h1v1h-1zM368 457h1v1h-1zM369 456h1v1h-1zM370 455h1v1h-1zM371 454h1v1h-1zM372 453h1v1h-1zM373 452h1v1h-1zM374 451h1v1h-1zM375 450h1v1h-1zM376 449h1v1h-1zM377 448h2v1h-2zM379 447h1v1h-1zM380 446h2v1h-2zM382 445h2v1h-2zM384 444h1v1h-1zM385 443h2v1h-2zM387 442h1v1h-1zM388 441h3v1h-3zM391 440h8v1h-8zM399 441h7v1h-7zM406 440h2v1h-2zM408 439h1v1h-1zM409 438h2v1h-2zM411 437h1v1h-1zM412 436h1v1h-1zM413 435h2v1h-2zM415 434h1v1h-1zM416 433h1v1h-1zM417 432h1v1h-1zM418 430h1v2h-1zM419 429h1v1h-1zM420 428h1v1h-1zM421 427h2v1h-2zM423 426h1v1h-1zM424 425h3v1h-3zM427 424h12v1h-12zM439 425h4v1h-4zM443 426h4v1h-4zM447 427h10v1h-10zM457 428h1v1h-1zM458 429h1v2h-1zM459 431h1v1h-1zM460 432h2v1h-2zM462 433h2v1h-2zM464 434h2v1h-2zM466 435h2v1h-2zM468 436h1v1h-1zM469 437h2v1h-2zM471 438h1v1h-1zM472 439h1v1h-1zM473 440h2v1h-2zM475 441h1v1h-1zM476 442h1v1h-1zM477 441h2v1h-2zM479 440h1v1h-1zM480 439h1v1h-1zM481 440h1v1h-1zM482 441h1v1h-1zM483 442h1v1h-1zM484 443h1v1h-1zM485 444h2v1h-2zM487 445h1v1h-1zM488 446h1v1h-1zM489 447h1v1h-1zM490 448h1v1h-1zM491 449h1v1h-1zM492 450h1v1h-1zM493 451h1v1h-1zM494 452h1v1h-1zM495 453h1v1h-1zM496 454h1v1h-1zM497 455h2v1h-2zM499 456h1v1h-1zM500 457h1v1h-1zM501 458h1v1h-1zM502 459h1v1h-1zM503 460h1v1h-1zM504 461h1v1h-1zM505 462h2v1h-2zM507 463h1v1h-1zM508 464h3v1h-3zM511 465h7v1h-7zM518 464h2v1h-2zM520 463h3v1h-3zM523 462h3v1h-3zM526 461h2v1h-2zM528 460h3v1h-3zM531 461h2v1h-2zM533 462h1v1h-1zM534 463h1v2h-1zM535 465h1v1h-1zM536 466h1v1h-1zM537 467h1v2h-1zM538 469h1v1h-1zM539 470h1v2h-1zM540 472h1v1h-1zM541 473h1v2h-1zM542 475h1v2h-1zM543 477h1v2h-1zM544 479h1v2h-1zM545 481h1v2h-1zM546 483h1v2h-1zM547 485h1v2h-1zM548 487h1v2h-1zM549 489h1v2h-1zM550 491h1v2h-1zM551 493h1v2h-1zM552 495h1v1h-1zM553 496h1v2h-1zM554 498h1v2h-1zM555 500h1v2h-1zM556 502h1v1h-1zM557 503h1v1h-1zM558 504h1v2h-1zM559 506h1v1h-1zM560 507h1v1h-1zM561 508h2v1h-2zM563 509h1v1h-1zM564 510h7v1h-7zM571 509h2v1h-2zM573 508h2v1h-2zM575 507h1v1h-1zM576 506h1v1h-1zM577 504h1v2h-1zM578 502h1v2h-1zM579 500h1v2h-1zM580 499h1v1h-1zM581 498h1v1h-1zM582 497h1v1h-1zM583 496h1v1h-1zM584 495h1v1h-1zM585 494h1v1h-1zM586 493h1v1h-1zM587 492h1v1h-1zM588 491h2v1h-2zM590 490h2v1h-2zM592 489h3v1h-3zM595 488h3v1h-3zM598 489h2v1h-2zM600 490h19v1h-19zM619 489h2v1h-2zM621 488h2v1h-2zM623 487h1v1h-1zM624 486h1v1h-1zM625 485h1v1h-1zM626 483h1v2h-1zM627 482h1v1h-1zM628 481h1v1h-1zM629 479h1v2h-1zM630 478h1v1h-1zM631 476h1v2h-1zM632 475h1v1h-1zM633 474h1v1h-1zM634 472h1v2h-1zM635 471h1v1h-1zM636 470h1v1h-1zM637 469h1v1h-1zM638 467h1v2h-1zM639 466h1v1h-1zM640 465h1v1h-1zM641 464h2v1h-2zM643 463h1v1h-1zM644 462h1v1h-1zM645 461h1v1h-1zM646 460h1v1h-1zM647 459h1v1h-1zM648 458h1v1h-1zM649 457h1v1h-1zM650 456h1v1h-1zM651 455h1v1h-1zM652 454h1v1h-1zM653 453h1v1h-1zM654 451h1v2h-1zM655 450h1v1h-1zM656 449h1v1h-1zM657 448h1v1h-1zM658 447h1v1h-1zM659 446h1v1h-1zM660 445h1v1h-1zM661 444h1v1h-1zM662 443h1v1h-1zM663 442h1v1h-1zM664 441h1v1h-1zM665 440h1v1h-1zM666 439h1v1h-1zM667 438h1v1h-1zM668 437h1v1h-1zM669 436h2v1h-2zM671 435h1v1h-1zM672 434h1v1h-1zM673 433h1v1h-1zM674 432h1v1h-1zM675 431h1v1h-1zM676 430h1v1h-1zM677 429h2v1h-2zM679 428h1v1h-1zM680 427h1v1h-1zM681 426h2v1h-2zM683 425h1v1h-1zM684 424h3v1h-3zM687 423h8v1h-8zM695 424h2v1h-2zM697 425h2v1h-2zM699 426h1v1h-1zM700 427h1v1h-1zM701 428h2v1h-2zM703 429h1v1h-1zM704 430h1v1h-1zM705 431h2v1h-2zM707 432h1v1h-1zM708 433h2v1h-2zM710 434h2v1h-2zM712 435h3v1h-3zM715 436h4v1h-4zM719 437h4v1h-4zM723 438h4v1h-4zM727 439h3v1h-3zM730 440h2v1h-2zM732 441h3v1h-3zM735 440h3v1h-3zM738 439h2v1h-2zM740 438h1v1h-1zM741 437h1v1h-1zM742 436h1v1h-1zM743 435h1v1h-1zM744 434h1v1h-1zM745 432h1v2h-1zM746 431h1v1h-1zM747 429h1v2h-1zM748 427h1v2h-1zM749 424h1v3h-1zM750 422h1v2h-1zM751 419h1v3h-1zM752 416h1v3h-1zM753 414h1v2h-1zM754 412h1v2h-1zM755 410h1v2h-1zM756 409h1v1h-1zM757 407h1v2h-1zM758 406h1v1h-1zM759 404h1v2h-1zM760 403h1v1h-1zM761 402h2v1h-2zM763 401h1v1h-1zM764 400h2v1h-2zM766 399h2v1h-2zM768 398h3v1h-3zM771 399h4v1h-4zM775 398h3v1h-3zM778 397h2v1h-2zM780 395h1v2h-1zM781 392h1v3h-1zM782 390h1v2h-1zM783 387h1v3h-1zM784 383h1v4h-1zM785 379h1v4h-1zM786 374h1v5h-1zM787 370h1v4h-1zM788 365h1v5h-1zM789 360h1v5h-1zM790 354h1v6h-1zM791 349h1v5h-1zM792 343h1v6h-1zM793 337h1v6h-1zM794 331h1v6h-1zM795 325h1v6h-1zM796 319h1v6h-1zM797 312h1v7h-1zM798 304h1v8h-1zM799 297h1v7h-1zM800 291h1v6h-1zM801 285h1v6h-1zM802 280h1v5h-1zM803 274h1v6h-1zM804 269h1v5h-1zM805 265h1v4h-1zM806 261h1v4h-1zM807 257h1v4h-1zM808 252h1v5h-1zM809 247h1v5h-1zM810 241h1v6h-1zM811 236h1v5h-1zM812 230h1v6h-1zM813 222h1v8h-1zM814 214h1v8h-1zM815 206h1v8h-1zM816 199h1v7h-1zM817 191h1v8h-1zM818 184h1v7h-1zM819 176h1v8h-1zM820 170h1v6h-1zM821 164h1v6h-1zM822 158h1v6h-1zM823 152h1v6h-1zM824 146h1v6h-1zM825 139h1v7h-1zM826 132h1v7h-1zM827 125h1v7h-1zM828 119h1v6h-1zM829 115h1v4h-1zM830 111h1v4h-1zM831 107h1v4h-1zM832 105h2v1h-2zM832 106h1v1h-1zM834 106h2v1h-2zM836 107h1v2h-1zM837 109h1v2h-1zM838 111h1v2h-1zM839 113h1v2h-1zM840 115h1v4h-1zM841 119h1v4h-1zM842 123h1v4h-1zM843 127h1v4h-1zM844 131h1v5h-1zM845 136h1v5h-1zM846 141h1v6h-1zM847 147h1v5h-1zM848 152h1v5h-1zM849 157h1v5h-1zM850 162h1v6h-1zM851 168h1v5h-1zM852 173h1v5h-1zM853 178h1v5h-1zM854 183h1v5h-1zM855 188h1v5h-1zM856 193h1v4h-1zM857 197h1v4h-1zM858 201h1v4h-1zM859 205h1v4h-1zM860 209h2v1h-2zM860 210h1v1h-1zM861 208h1v1h-1zM862 206h1v2h-1zM863 204h1v2h-1zM864 203h1v1h-1zM865 201h1v2h-1zM866 200h1v1h-1zM867 198h1v2h-1zM868 197h1v1h-1zM869 196h1v1h-1zM870 194h1v2h-1zM871 193h1v1h-1zM872 192h2v1h-2zM874 191h2v1h-2zM876 190h3v1h-3zM879 191h2v1h-2zM880 192h1v1h-1zM881 193h1v3h-1zM882 196h1v2h-1zM883 198h1v3h-1zM884 201h1v3h-1zM885 204h1v2h-1zM886 206h1v2h-1zM887 208h1v2h-1zM888 210h1v1h-1zM889 211h1v1h-1zM890 212h1v2h-1zM891 214h1v1h-1zM892 215h1v2h-1zM893 217h1v2h-1zM894 219h1v3h-1zM895 222h1v2h-1zM896 224h1v3h-1zM897 227h1v2h-1zM898 229h1v2h-1zM899 231h1v2h-1zM900 233h1v1h-1zM901 234h1v1h-1zM902 235h1v2h-1zM903 237h1v1h-1zM904 238h1v1h-1zM905 239h1v1h-1zM906 240h1v2h-1zM907 242h1v1h-1zM908 243h1v1h-1zM909 242h1v1h-1zM910 240h1v2h-1zM911 239h1v1h-1zM912 237h1v2h-1zM913 235h1v2h-1zM914 233h1v2h-1zM915 231h1v2h-1zM916 229h1v2h-1zM917 228h1v1h-1zM918 226h1v2h-1zM919 225h1v1h-1zM920 224h1v1h-1zM921 222h1v2h-1zM922 221h1v1h-1zM923 219h1v2h-1zM924 218h1v1h-1zM925 216h1v2h-1zM926 214h1v2h-1zM927 212h1v2h-1zM928 211h1v1h-1zM929 210h1v1h-1zM930 208h1v2h-1zM931 207h1v1h-1zM932 206h3v1h-3zM935 207h2v1h-2zM937 206h2v1h-2zM939 205h1v1h-1zM940 204h2v1h-2zM942 203h2v1h-2zM944 202h2v1h-2zM946 201h3v1h-3zM948 200h1v1h-1zM949 202h1v2h-1zM950 204h1v2h-1zM951 206h1v2h-1zM952 208h1v2h-1zM953 210h1v2h-1zM954 212h1v2h-1zM955 214h1v2h-1zM956 216h1v3h-1zM957 219h1v2h-1zM958 221h1v2h-1zM959 223h1v2h-1zM960 225h1v1h-1zM961 226h1v2h-1zM962 228h1v1h-1zM963 229h1v2h-1zM964 231h3v1h-3zM967 232h4v1h-4zM971 231h2v1h-2zM973 230h1v1h-1zM974 228h1v2h-1zM975 227h1v1h-1zM976 226h1v1h-1zM977 224h1v2h-1zM978 222h1v2h-1zM979 220h1v2h-1zM980 218h1v2h-1zM981 216h1v2h-1zM982 214h1v2h-1zM983 212h1v2h-1zM984 210h1v2h-1zM985 211h1v1h-1zM986 212h1v1h-1zM987 213h1v1h-1zM988 214h1v2h-1zM989 216h1v3h-1zM990 219h1v2h-1zM991 221h1v3h-1zM992 224h1v2h-1zM993 226h1v2h-1zM994 228h1v2h-1zM995 230h1v2h-1zM996 232h5v1h-5zM1001 233h1v2h-1zM1002 235h1v1h-1zM1003 236h1v2h-1zM1004 238h1v1h-1zM1005 237h1v1h-1zM1006 236h1v1h-1zM1007 235h1v1h-1zM1008 233h1v2h-1zM1009 231h1v2h-1zM1010 229h1v2h-1zM1011 227h1v2h-1zM1012 224h1v3h-1zM1013 222h1v2h-1zM1014 220h1v2h-1zM1015 218h1v2h-1zM1016 216h1v2h-1zM1017 215h1v1h-1zM1018 213h1v2h-1zM1019 212h1v1h-1zM1020 211h2v1h-2zM1022 212h2v1h-2zM1024 213h1v2h-1zM1025 215h1v2h-1zM1026 217h1v3h-1zM1027 220h1v2h-1zM1028 222h1v3h-1zM1029 225h1v2h-1zM1030 227h1v2h-1zM1031 229h1v2h-1zM1032 231h1v3h-1zM1033 234h1v2h-1zM1034 236h1v2h-1zM1035 238h1v2h-1zM1036 240h1v1h-1zM1037 241h1v1h-1zM1038 242h1v2h-1zM1039 244h1v1h-1zM1040 245h5v1h-5zM1045 244h1v1h-1zM1046 243h1v1h-1zM1047 242h1v1h-1zM1048 241h3v1h-3zM1051 242h2v1h-2zM1052 243h1v1h-1zM1053 244h1v3h-1zM1054 247h1v3h-1zM1055 250h1v3h-1zM1056 253h1v3h-1zM1057 256h1v3h-1zM1058 259h1v3h-1zM1059 262h1v3h-1zM1060 265h1v3h-1zM1061 268h1v2h-1zM1062 270h1v3h-1zM1063 273h1v2h-1zM1064 275h1v3h-1zM1065 278h1v2h-1zM1066 280h1v2h-1zM1067 282h1v2h-1zM1068 284h1v2h-1zM1069 286h1v3h-1zM1070 289h1v3h-1zM1071 292h1v3h-1zM1072 295h1v4h-1zM1073 299h1v4h-1zM1074 303h1v5h-1zM1075 308h1v4h-1zM1076 312h1v5h-1zM1077 317h1v4h-1zM1078 321h1v4h-1zM1079 325h1v4h-1zM1080 329h1v4h-1zM1081 333h1v4h-1zM1082 337h1v4h-1zM1083 341h1v4h-1zM1084 345h1v4h-1zM1085 349h1v4h-1zM1086 353h1v4h-1zM1087 357h1v4h-1zM1088 361h1v3h-1zM1089 364h1v3h-1zM1090 367h1v4h-1zM1091 371h1v3h-1zM1092 374h1v2h-1zM1093 376h1v2h-1zM1094 378h1v2h-1zM1095 380h1v2h-1zM1096 382h1v1h-1zM1097 383h1v1h-1zM1098 384h1v1h-1zM1099 385h1v1h-1zM1100 386h1v1h-1zM1101 387h1v1h-1zM1102 388h1v2h-1zM1103 390h1v1h-1zM1104 391h1v1h-1zM1105 390h1v1h-1zM1106 389h1v1h-1zM1107 388h1v1h-1zM1108 386h1v2h-1zM1109 384h1v2h-1zM1110 381h1v3h-1zM1111 379h1v2h-1zM1112 376h1v3h-1zM1113 373h1v3h-1zM1114 369h1v4h-1zM1115 366h1v3h-1zM1116 363h1v3h-1zM1117 360h1v3h-1zM1118 357h1v3h-1zM1119 354h1v3h-1zM1120 352h1v2h-1zM1121 350h1v2h-1zM1122 348h1v2h-1zM1123 346h1v2h-1zM1124 345h2v1h-2zM1126 344h2v1h-2zM1128 343h11v1h-11zM1139 344h3v1h-3zM1142 345h2v1h-2zM1144 346h2v1h-2zM1146 347h2v1h-2zM1148 348h5v1h-5zM1153 347h2v1h-2zM1155 346h1v1h-1zM1156 345h1v1h-1zM1157 343h1v2h-1zM1158 342h1v1h-1zM1159 340h1v2h-1zM1160 339h1v1h-1zM1161 337h1v2h-1zM1162 335h1v2h-1zM1163 333h1v2h-1zM1164 332h1v1h-1zM1165 330h1v2h-1zM1166 329h1v1h-1zM1167 327h1v2h-1zM1168 326h1v1h-1zM1169 325h2v1h-2zM1171 324h1v1h-1zM1172 323h1v1h-1zM1173 324h1v1h-1zM1174 325h1v2h-1zM1175 327h1v1h-1zM1176 328h1v1h-1zM1177 329h1v1h-1zM1178 330h1v2h-1zM1179 332h1v1h-1zM1180 333h1v1h-1zM1181 334h1v2h-1zM1182 336h1v2h-1zM1183 338h1v2h-1zM1184 340h1v1h-1zM1185 341h1v1h-1zM1186 342h1v2h-1zM1187 344h1v1h-1zM1188 345h1v1h-1zM1189 346h1v1h-1zM1190 347h1v1h-1zM1191 348h1v1h-1zM1192 349h7v1h-7zM1199 350h4v1h-4zM1203 351h7v1h-7zM1210 350h2v1h-2zM1212 349h2v1h-2zM1214 348h2v1h-2zM1216 347h3v1h-3zM1219 346h4v1h-4zM1223 347h3v1h-3zM1226 348h2v1h-2zM1228 349h3v1h-3zM1231 350h4v1h-4zM1235 349h2v1h-2zM1237 350h1v1h-1zM1238 351h1v1h-1zM1239 352h1v1h-1zM1240 353h1v1h-1zM1241 354h1v2h-1zM1242 356h1v1h-1zM1243 357h1v2h-1zM1244 359h1v2h-1zM1245 361h1v2h-1zM1246 363h1v2h-1zM1247 365h1v2h-1zM1248 367h1v2h-1zM1249 369h1v2h-1zM1250 371h1v3h-1zM1251 374h1v2h-1zM1252 376h1v2h-1zM1253 378h1v2h-1zM1254 380h1v2h-1zM1255 382h1v2h-1zM1256 384h1v1h-1zM1257 385h1v1h-1zM1258 386h1v2h-1zM1259 388h1v1h-1zM1260 389h1v1h-1zM1261 390h1v1h-1zM1262 391h1v2h-1zM1263 393h1v1h-1zM1264 394h1v1h-1zM1265 395h1v1h-1zM1266 396h1v1h-1zM1267 397h1v1h-1zM1268 398h1v1h-1z" fill="#ffa500" shape-rendering="crispEdges"/>
<path d="M4 476h3v1h-3zM7 477h24v1h-24zM31 476h4v1h-4zM35 475h4v1h-4zM39 474h4v1h-4zM43 473h2v1h-2zM45 472h2v1h-2zM47 471h1v1h-1zM48 470h2v1h-2zM50 469h2v1h-2zM52 468h3v1h-3zM55 467h3v1h-3zM58 466h2v1h-2zM60 465h3v1h-3zM63 464h4v1h-4zM67 463h3v1h-3zM70 462h2v1h-2zM72 461h2v1h-2zM74 460h2v1h-2zM76 459h2v1h-2zM78 458h2v1h-2zM80 457h2v1h-2zM82 456h2v1h-2zM84 455h1v1h-1zM85 454h2v1h-2zM87 453h1v1h-1zM88 452h2v1h-2zM90 451h2v1h-2zM92 450h2v1h-2zM94 449h2v1h-2zM96 448h2v1h-2zM98 447h2v1h-2zM100 446h2v1h-2zM102 445h2v1h-2zM104 444h2v1h-2zM106 443h2v1h-2zM108 442h2v1h-2zM110 441h2v1h-2zM112 440h3v1h-3zM115 439h3v1h-3zM118 438h2v1h-2zM120 437h3v1h-3zM123 436h4v1h-4zM127 435h3v1h-3zM130 434h2v1h-2zM132 433h3v1h-3zM135 432h3v1h-3zM138 431h2v1h-2zM140 430h3v1h-3zM143 429h12v1h-12zM155 430h8v1h-8zM163 431h3v1h-3zM166 432h2v1h-2zM168 433h39v1h-39zM207 434h16v1h-16zM223 435h44v1h-44zM267 434h12v1h-12zM279 433h4v1h-4zM283 432h8v1h-8zM291 433h4v1h-4zM295 434h3v1h-3zM298 435h2v1h-2zM300 436h2v1h-2zM302 437h2v1h-2zM304 438h3v1h-3zM307 439h3v1h-3zM310 440h2v1h-2zM312 441h2v1h-2zM314 442h2v1h-2zM316 443h2v1h-2zM318 444h2v1h-2zM320 445h2v1h-2zM322 446h2v1h-2zM324 447h3v1h-3zM327 448h4v1h-4zM331 449h4v1h-4zM335 450h4v1h-4zM339 451h4v1h-4zM343 452h4v1h-4zM347 453h4v1h-4zM351 454h4v1h-4zM355 455h4v1h-4zM359 456h4v1h-4zM363 457h4v1h-4zM367 458h4v1h-4zM371 459h4v1h-4zM375 460h4v1h-4zM379 461h4v1h-4zM383 462h20v1h-20zM403 461h7v1h-7zM410 460h2v1h-2zM412 459h3v1h-3zM415 458h3v1h-3zM418 457h2v1h-2zM420 456h2v1h-2zM422 455h2v1h-2zM424 454h2v1h-2zM426 453h2v1h-2zM428 452h2v1h-2zM430 451h2v1h-2zM432 450h2v1h-2zM434 449h2v1h-2zM436 448h2v1h-2zM438 447h2v1h-2zM440 446h2v1h-2zM442 445h2v1h-2zM444 444h2v1h-2zM446 443h2v1h-2zM448 442h2v1h-2zM450 441h2v1h-2zM452 440h7v1h-7zM459 439h4v1h-4zM463 438h8v1h-8zM471 437h7v1h-7zM478 436h2v1h-2zM480 435h7v1h-7zM487 436h8v1h-8zM495 437h8v1h-8zM503 438h4v1h-4zM507 439h4v1h-4zM511 440h8v1h-8zM519 441h4v1h-4zM523 442h4v1h-4zM527 443h4v1h-4zM531 444h3v1h-3zM534 445h2v1h-2zM536 446h2v1h-2zM538 447h2v1h-2zM540 448h2v1h-2zM542 449h2v1h-2zM544 450h1v1h-1zM545 451h2v1h-2zM547 452h1v1h-1zM548 453h1v1h-1zM549 454h2v1h-2zM551 455h1v1h-1zM552 456h1v1h-1zM553 457h2v1h-2zM555 458h1v1h-1zM556 459h1v1h-1zM557 460h2v1h-2zM559 461h1v1h-1zM560 462h1v1h-1zM561 463h2v1h-2zM563 464h1v1h-1zM564 465h1v1h-1zM565 466h2v1h-2zM567 467h1v1h-1zM568 468h2v1h-2zM570 469h2v1h-2zM572 470h2v1h-2zM574 471h2v1h-2zM576 472h6v1h-6zM582 473h2v1h-2zM584 474h2v1h-2zM586 475h2v1h-2zM588 476h2v1h-2zM590 477h2v1h-2zM592 478h3v1h-3zM595 479h3v1h-3zM598 480h2v1h-2zM600 481h3v1h-3zM603 482h4v1h-4zM607 483h4v1h-4zM611 484h4v1h-4zM615 485h4v1h-4zM619 486h32v1h-32zM651 485h4v1h-4zM655 484h3v1h-3zM658 483h2v1h-2zM660 482h2v1h-2zM662 481h2v1h-2zM664 480h2v1h-2zM666 479h2v1h-2zM668 478h2v1h-2zM670 477h2v1h-2zM672 476h1v1h-1zM673 475h2v1h-2zM675 474h1v1h-1zM676 473h1v1h-1zM677 472h2v1h-2zM679 471h1v1h-1zM680 470h1v1h-1zM681 469h1v1h-1zM682 468h1v1h-1zM683 467h1v1h-1zM684 466h1v1h-1zM685 465h2v1h-2zM687 464h1v1h-1zM688 463h1v1h-1zM689 462h2v1h-2zM691 461h1v1h-1zM692 460h2v1h-2zM694 459h2v1h-2zM696 458h3v1h-3zM699 457h3v1h-3zM702 456h2v1h-2zM704 455h3v1h-3zM707 454h3v1h-3zM710 453h2v1h-2zM712 452h3v1h-3zM715 451h3v1h-3zM718 450h2v1h-2zM720 449h2v1h-2zM722 448h2v1h-2zM724 447h2v1h-2zM726 446h2v1h-2zM728 445h3v1h-3zM731 444h3v1h-3zM734 443h2v1h-2zM736 442h2v1h-2zM738 441h2v1h-2zM740 440h2v1h-2zM742 439h2v1h-2zM744 438h2v1h-2zM746 437h2v1h-2zM748 436h2v1h-2zM750 435h2v1h-2zM752 434h1v1h-1zM753 433h2v1h-2zM755 432h1v1h-1zM756 431h2v1h-2zM758 430h2v1h-2zM760 429h3v1h-3zM763 428h3v1h-3zM766 427h2v1h-2zM768 426h2v1h-2zM770 425h2v1h-2zM772 424h3v1h-3zM775 423h3v1h-3zM778 422h2v1h-2zM780 421h1v1h-1zM781 420h2v1h-2zM783 419h1v1h-1zM784 418h1v1h-1zM785 417h2v1h-2zM787 416h1v1h-1zM788 415h1v1h-1zM789 414h1v1h-1zM790 413h1v1h-1zM791 412h1v1h-1zM792 411h1v1h-1zM793 410h1v1h-1zM794 408h1v2h-1zM795 407h1v1h-1zM796 406h1v1h-1zM797 405h1v1h-1zM798 403h1v2h-1zM799 402h1v1h-1zM800 401h1v1h-1zM801 399h1v2h-1zM802 398h1v1h-1zM803 396h1v2h-1zM804 394h1v2h-1zM805 392h1v2h-1zM806 390h1v2h-1zM807 388h1v2h-1zM808 386h1v2h-1zM809 384h1v2h-1zM810 381h1v3h-1zM811 379h1v2h-1zM812 376h1v3h-1zM813 373h1v3h-1zM814 371h1v2h-1zM815 368h1v3h-1zM816 365h1v3h-1zM817 363h1v2h-1zM818 361h1v2h-1zM819 359h1v2h-1zM820 356h1v3h-1zM821 354h1v2h-1zM822 351h1v3h-1zM823 349h1v2h-1zM824 346h1v3h-1zM825 343h1v3h-1zM826 339h1v4h-1zM827 336h1v3h-1zM828 333h1v3h-1zM829 330h1v3h-1zM830 327h1v3h-1zM831 324h1v3h-1zM832 321h1v3h-1zM833 319h1v2h-1zM834 316h1v3h-1zM835 314h1v2h-1zM836 311h1v3h-1zM837 309h1v2h-1zM838 307h1v2h-1zM839 305h1v2h-1zM840 302h1v3h-1zM841 300h1v2h-1zM842 298h1v2h-1zM843 296h1v2h-1zM844 294h1v2h-1zM845 292h1v2h-1zM846 290h1v2h-1zM847 288h1v2h-1zM848 287h1v1h-1zM849 285h1v2h-1zM850 283h1v2h-1zM851 281h1v2h-1zM852 279h1v2h-1zM853 277h1v2h-1zM854 275h1v2h-1zM855 273h1v2h-1zM856 272h1v1h-1zM857 270h1v2h-1zM858 268h1v2h-1zM859 266h1v2h-1zM860 264h1v2h-1zM861 262h1v2h-1zM862 259h1v3h-1zM863 257h1v2h-1zM864 255h1v2h-1zM865 253h1v2h-1zM866 251h1v2h-1zM867 249h1v2h-1zM868 248h1v1h-1zM869 246h1v2h-1zM870 245h1v1h-1zM871 243h1v2h-1zM872 242h1v1h-1zM873 240h1v2h-1zM874 239h1v1h-1zM875 237h1v2h-1zM876 236h1v1h-1zM877 234h1v2h-1zM878 233h1v1h-1zM879 231h1v2h-1zM880 230h1v1h-1zM881 228h1v2h-1zM882 227h1v1h-1zM883 225h1v2h-1zM884 224h1v1h-1zM885 222h1v2h-1zM886 221h1v1h-1zM887 219h1v2h-1zM888 218h1v1h-1zM889 216h1v2h-1zM890 215h1v1h-1zM891 213h1v2h-1zM892 212h1v1h-1zM893 211h1v1h-1zM894 209h1v2h-1zM895 208h1v1h-1zM896 207h1v1h-1zM897 206h1v1h-1zM898 205h1v1h-1zM899 204h1v1h-1zM900 203h1v1h-1zM901 202h1v1h-1zM902 201h1v1h-1zM903 200h1v1h-1zM904 199h2v1h-2zM906 198h2v1h-2zM908 197h1v1h-1zM909 196h2v1h-2zM911 195h1v1h-1zM912 194h3v1h-3zM915 193h3v1h-3zM918 192h2v1h-2zM920 191h7v1h-7zM927 190h4v1h-4zM931 191h2v1h-2zM933 192h2v1h-2zM935 193h1v1h-1zM936 194h1v1h-1zM937 195h1v1h-1zM938 196h1v1h-1zM939 197h1v1h-1zM940 198h1v1h-1zM941 199h2v1h-2zM943 200h1v1h-1zM944 201h1v1h-1zM945 202h1v1h-1zM946 203h1v1h-1zM947 204h1v1h-1zM948 205h1v1h-1zM949 206h1v1h-1zM950 207h1v2h-1zM951 209h1v1h-1zM952 210h1v1h-1zM953 211h2v1h-2zM955 212h1v1h-1zM956 213h2v1h-2zM958 214h2v1h-2zM960 215h3v1h-3zM963 216h8v1h-8zM971 215h4v1h-4zM975 216h4v1h-4zM979 217h4v1h-4zM983 218h4v1h-4zM987 219h2v1h-2zM989 220h2v1h-2zM991 221h1v1h-1zM992 222h3v1h-3zM995 223h4v1h-4zM999 224h11v1h-11zM1010 223h2v1h-2zM1012 222h3v1h-3zM1015 221h3v1h-3zM1018 220h2v1h-2zM1020 219h7v1h-7zM1027 220h4v1h-4zM1031 221h3v1h-3zM1034 222h2v1h-2zM1036 223h3v1h-3zM1039 224h10v1h-10zM1049 225h2v1h-2zM1051 226h1v1h-1zM1052 227h1v1h-1zM1053 228h2v1h-2zM1055 229h1v1h-1zM1056 230h1v1h-1zM1057 231h2v1h-2zM1059 232h1v1h-1zM1060 233h1v1h-1zM1061 234h2v1h-2zM1063 235h1v1h-1zM1064 236h1v1h-1zM1065 237h2v1h-2zM1067 238h1v1h-1zM1068 239h1v1h-1zM1069 240h1v1h-1zM1070 241h1v1h-1zM1071 242h1v1h-1zM1072 243h1v1h-1zM1073 244h1v1h-1zM1074 245h1v1h-1zM1075 246h1v1h-1zM1076 247h1v1h-1zM1077 248h1v1h-1zM1078 249h1v1h-1zM1079 250h1v1h-1zM1080 251h1v1h-1zM1081 252h1v1h-1zM1082 253h1v1h-1zM1083 254h1v1h-1zM1084 255h1v1h-1zM1085 256h1v1h-1zM1086 257h1v2h-1zM1087 259h1v1h-1zM1088 260h1v1h-1zM1089 261h1v1h-1zM1090 262h1v2h-1zM1091 264h1v1h-1zM1092 265h1v1h-1zM1093 266h1v2h-1zM1094 268h1v1h-1zM1095 269h1v2h-1zM1096 271h1v1h-1zM1097 272h1v2h-1zM1098 274h1v1h-1zM1099 275h1v2h-1zM1100 277h1v2h-1zM1101 279h1v2h-1zM1102 281h1v2h-1zM1103 283h1v2h-1zM1104 285h1v1h-1zM1105 286h1v1h-1zM1106 287h1v1h-1zM1107 288h1v1h-1zM1108 289h1v1h-1zM1109 290h2v1h-2zM1111 291h1v1h-1zM1112 292h1v1h-1zM1113 293h2v1h-2zM1115 294h1v1h-1zM1116 295h1v1h-1zM1117 296h1v1h-1zM1118 297h1v1h-1zM1119 298h1v1h-1zM1120 299h1v1h-1zM1121 300h1v1h-1zM1122 301h1v2h-1zM1123 303h1v1h-1zM1124 304h1v1h-1zM1125 305h1v1h-1zM1126 306h1v2h-1zM1127 308h1v1h-1zM1128 309h1v1h-1zM1129 310h1v1h-1zM1130 311h1v1h-1zM1131 312h1v1h-1zM1132 313h1v1h-1zM1133 314h1v1h-1zM1134 315h1v2h-1zM1135 317h1v1h-1zM1136 318h1v1h-1zM1137 319h2v1h-2zM1139 320h1v1h-1zM1140 321h1v1h-1zM1141 322h2v1h-2zM1143 323h1v1h-1zM1144 324h1v1h-1zM1145 325h1v1h-1zM1146 326h1v1h-1zM1147 327h1v1h-1zM1148 328h1v1h-1zM1149 329h1v1h-1zM1150 330h1v1h-1zM1151 331h1v1h-1zM1152 332h2v1h-2zM1154 333h2v1h-2zM1156 334h1v1h-1zM1157 335h1v1h-1zM1158 336h1v1h-1zM1159 337h1v1h-1zM1160 338h2v1h-2zM1162 339h2v1h-2zM1164 340h2v1h-2zM1166 341h2v1h-2zM1168 342h2v1h-2zM1170 343h2v1h-2zM1172 344h2v1h-2zM1174 345h2v1h-2zM1176 346h2v1h-2zM1178 347h2v1h-2zM1180 348h2v1h-2zM1182 349h2v1h-2zM1184 350h2v1h-2zM1186 351h2v1h-2zM1188 352h3v1h-3zM1191 353h4v1h-4zM1195 352h8v1h-8zM1203 351h4v1h-4zM1207 350h3v1h-3zM1210 349h2v1h-2zM1212 348h2v1h-2zM1214 347h2v1h-2zM1216 346h2v1h-2zM1218 345h2v1h-2zM1220 344h19v1h-19zM1239 345h4v1h-4zM1243 346h3v1h-3zM1246 347h2v1h-2zM1248 348h3v1h-3zM1251 349h3v1h-3zM1254 350h2v1h-2zM1256 351h2v1h-2zM1258 352h2v1h-2zM1260 353h3v1h-3zM1263 354h4v1h-4zM1267 355h2v1h-2z" fill="#0000c8" shape-rendering="crispEdges"/>
<g shape-rendering="crispEdges">
<rect x="4" y="201" width="1594" height="2" fill="#ff0000" />
<rect x="3" y="199" width="6" height="6" fill="#ff0000" />
<rect x="5" y="201" width="2" height="2" fill="#fff" />
<rect x="1590" y="199" width="6" height="6" fill="#ff0000" />
<rect x="1592" y="201" width="2" height="2" fill="#fff" />
<rect x="4" y="272" width="1594" height="2" fill="#ff0000" />
<rect x="3" y="270" width="6" height="6" fill="#ff0000" />
<rect x="5" y="272" width="2" height="2" fill="#fff" />
<rect x="1590" y="270" width="6" height="6" fill="#ff0000" />
<rect x="1592" y="272" width="2" height="2" fill="#fff" />
<rect x="4" y="339" width="1594" height="2" fill="#00ff00" />
<rect x="3" y="337" width="6" height="6" fill="#00ff00" />
<rect x="5" y="339" width="2" height="2" fill="#fff" />
<rect x="1590" y="337" width="6" height="6" fill="#00ff00" />
<rect x="1592" y="339" width="2" height="2" fill="#fff" />
<rect x="4" y="421" width="1594" height="2" fill="#0000ff" />
<rect x="3" y="419" width="6" height="6" fill="#0000ff" />
<rect x="5" y="421" width="2" height="2" fill="#fff" />
<rect x="1590" y="419" width="6" height="6" fill="#0000ff" />
<rect x="1592" y="421" width="2" height="2" fill="#fff" />
<rect x="4" y="503" width="1594" height="2" fill="#0000ff" />
<rect x="3" y="501" width="6" height="6" fill="#0000ff" />
<rect x="5" y="503" width="2" height="2" fill="#fff" />
<rect x="1590" y="501" width="6" height="6" fill="#0000ff" />
<rect x="1592" y="503" width="2" height="2" fill="#fff" />
<rect x="1598" y="406" width="38" height="11" fill="#000" />
<rect x="1598" y="196" width="38" height="11" fill="#ff0000" />
<rect x="1598" y="267" width="38" height="11" fill="#ff0000" />
<rect x="1598" y="334" width="38" height="11" fill="#00ff00" />
<rect x="1598" y="416" width="38" height="11" fill="#0000ff" />
<rect x="1598" y="498" width="38" height="11" fill="#0000ff" />
</g>
<text x="1602.5" y="415" font-size="9.6" fill="#fff" stroke="#fff" stroke-width="0.15" textLength="32.3" lengthAdjust="spacingAndGlyphs" >1.33423</text>
<text x="1602.5" y="205" font-size="9.6" fill="#fff" stroke="#fff" stroke-width="0.15" textLength="32.3" lengthAdjust="spacingAndGlyphs" >1.41060</text>
<text x="1602.5" y="276" font-size="9.6" fill="#fff" stroke="#fff" stroke-width="0.15" textLength="32.3" lengthAdjust="spacingAndGlyphs" >1.38464</text>
<text x="1602.5" y="343" font-size="9.6" fill="#fff" stroke="#fff" stroke-width="0.15" textLength="32.3" lengthAdjust="spacingAndGlyphs" >1.36015</text>
<text x="1602.5" y="425" font-size="9.6" fill="#fff" stroke="#fff" stroke-width="0.15" textLength="32.3" lengthAdjust="spacingAndGlyphs" >1.33011</text>
<text x="1602.5" y="507" font-size="9.6" fill="#fff" stroke="#fff" stroke-width="0.15" textLength="32.3" lengthAdjust="spacingAndGlyphs" >1.30020</text>
<path d="M7 31h7v1h-7zM8 32h5v1h-5zM9 33h3v1h-3zM10 34h1v1h-1z" fill="#000" shape-rendering="crispEdges"/>
<text x="19.3" y="36" font-size="9.6" fill="#000" stroke="#000" stroke-width="0.15" textLength="65" lengthAdjust="spacingAndGlyphs" >USDCAD,Daily</text>
<text x="90.8" y="36" font-size="9.6" fill="#000" stroke="#000" stroke-width="0.15" textLength="32.3" lengthAdjust="spacingAndGlyphs" >1.33831</text>
<text x="127" y="36" font-size="9.6" fill="#000" stroke="#000" stroke-width="0.15" textLength="32.3" lengthAdjust="spacingAndGlyphs" >1.33923</text>
<text x="163" y="36" font-size="9.6" fill="#000" stroke="#000" stroke-width="0.15" textLength="32.3" lengthAdjust="spacingAndGlyphs" >1.33373</text>
<text x="198.8" y="36" font-size="9.6" fill="#000" stroke="#000" stroke-width="0.15" textLength="32.3" lengthAdjust="spacingAndGlyphs" >1.33423</text>
<path d="M1272 25h9v1h-9zM1273 26h7v1h-7zM1274 27h5v1h-5zM1275 28h3v1h-3zM1276 29h1v1h-1z" fill="#c0c0c0" shape-rendering="crispEdges"/>
<g shape-rendering="crispEdges">
<path d="M4 560.5H1596M4 596.5H1596" stroke="#c0c0c0" stroke-width="1" stroke-dasharray="3 3" fill="none"/>
</g>
<path d="M4 577h1v1h-1zM5 575h1v2h-1zM6 574h1v1h-1zM7 572h1v2h-1zM8 571h2v1h-2zM10 572h2v1h-2zM12 573h1v1h-1zM13 574h2v1h-2zM15 575h1v1h-1zM16 576h2v1h-2zM18 575h2v1h-2zM20 574h1v1h-1zM21 575h1v1h-1zM22 576h1v1h-1zM23 577h1v1h-1zM24 578h1v1h-1zM25 576h1v2h-1zM26 574h1v2h-1zM27 572h1v2h-1zM28 571h2v1h-2zM30 570h2v1h-2zM32 569h3v1h-3zM35 570h3v1h-3zM38 571h2v1h-2zM40 572h1v1h-1zM41 571h1v1h-1zM42 569h1v2h-1zM43 568h1v1h-1zM44 567h1v1h-1zM45 565h1v2h-1zM46 564h1v1h-1zM47 562h2v1h-2zM47 563h1v1h-1zM48 561h1v1h-1zM49 563h1v2h-1zM50 565h1v2h-1zM51 567h1v2h-1zM52 569h1v2h-1zM53 571h1v1h-1zM54 572h1v1h-1zM55 573h1v1h-1zM56 574h2v1h-2zM58 575h2v1h-2zM60 576h3v1h-3zM63 575h6v1h-6zM68 574h1v1h-1zM69 572h1v2h-1zM70 570h1v2h-1zM71 568h1v2h-1zM72 567h3v1h-3zM75 566h2v1h-2zM77 567h1v1h-1zM78 568h1v2h-1zM79 570h1v1h-1zM80 571h2v1h-2zM82 572h2v1h-2zM84 573h1v1h-1zM85 572h2v1h-2zM87 571h1v1h-1zM88 570h1v1h-1zM89 569h2v1h-2zM91 568h1v1h-1zM92 567h1v1h-1zM93 568h1v2h-1zM94 570h1v2h-1zM95 572h1v2h-1zM96 574h2v1h-2zM98 573h2v1h-2zM100 572h2v1h-2zM102 571h2v1h-2zM104 570h1v1h-1zM105 571h2v1h-2zM107 572h1v1h-1zM108 573h2v1h-2zM110 574h2v1h-2zM112 575h3v1h-3zM115 576h3v1h-3zM118 575h2v1h-2zM120 574h3v1h-3zM123 573h4v1h-4zM127 574h3v1h-3zM130 573h2v1h-2zM132 572h3v1h-3zM135 571h4v1h-4zM139 570h2v1h-2zM140 571h1v1h-1zM141 572h1v3h-1zM142 575h1v3h-1zM143 578h1v3h-1zM144 581h1v2h-1zM145 582h1v1h-1zM146 583h2v1h-2zM148 584h1v1h-1zM149 585h1v1h-1zM150 586h1v2h-1zM151 588h1v1h-1zM152 589h3v1h-3zM155 590h3v1h-3zM158 591h2v1h-2zM160 592h3v1h-3zM163 593h2v1h-2zM164 592h1v1h-1zM165 590h1v2h-1zM166 588h1v2h-1zM167 586h1v2h-1zM168 584h2v1h-2zM168 585h1v1h-1zM170 583h2v1h-2zM172 582h1v1h-1zM173 580h1v2h-1zM174 578h1v2h-1zM175 576h1v2h-1zM176 575h2v1h-2zM178 574h2v1h-2zM180 573h1v1h-1zM181 574h1v1h-1zM182 575h1v2h-1zM183 577h1v1h-1zM184 578h3v1h-3zM187 579h2v1h-2zM189 578h1v1h-1zM190 577h1v1h-1zM191 576h1v1h-1zM192 575h2v1h-2zM194 576h2v1h-2zM196 577h3v1h-3zM199 576h11v1h-11zM210 577h2v1h-2zM212 578h2v1h-2zM214 577h2v1h-2zM216 576h3v1h-3zM219 577h4v1h-4zM223 578h3v1h-3zM226 579h2v1h-2zM228 580h6v1h-6zM234 581h3v1h-3zM236 582h1v1h-1zM237 578h1v3h-1zM238 576h1v2h-1zM239 573h1v3h-1zM240 571h2v1h-2zM240 572h1v1h-1zM242 570h2v1h-2zM244 569h3v1h-3zM247 568h4v1h-4zM251 569h2v1h-2zM253 570h1v1h-1zM254 571h1v1h-1zM255 572h1v1h-1zM256 573h1v1h-1zM257 572h2v1h-2zM259 571h1v1h-1zM260 570h5v1h-5zM265 571h1v2h-1zM266 573h1v2h-1zM267 575h1v2h-1zM268 577h1v2h-1zM269 579h1v3h-1zM270 582h1v4h-1zM271 586h1v3h-1zM272 589h1v2h-1zM273 590h4v1h-4zM277 588h1v2h-1zM278 586h1v2h-1zM279 584h1v2h-1zM280 583h1v1h-1zM281 584h2v1h-2zM283 585h1v1h-1zM284 586h3v1h-3zM287 587h2v1h-2zM289 588h1v1h-1zM290 589h1v2h-1zM291 591h1v1h-1zM292 592h6v1h-6zM298 593h2v1h-2zM300 594h3v1h-3zM303 595h3v1h-3zM306 596h2v1h-2zM308 597h3v1h-3zM311 596h4v1h-4zM315 597h4v1h-4zM319 598h10v1h-10zM329 597h2v1h-2zM331 596h1v1h-1zM332 593h1v3h-1zM333 589h1v4h-1zM334 585h1v4h-1zM335 581h1v4h-1zM336 578h1v3h-1zM337 579h2v1h-2zM339 580h1v1h-1zM340 581h7v1h-7zM347 582h6v1h-6zM353 581h2v1h-2zM355 580h1v1h-1zM356 579h1v1h-1zM357 578h2v1h-2zM359 577h1v1h-1zM360 576h5v1h-5zM365 574h1v2h-1zM366 573h1v1h-1zM367 571h1v2h-1zM368 570h3v1h-3zM371 569h3v1h-3zM374 570h2v1h-2zM376 571h2v1h-2zM378 570h2v1h-2zM380 569h3v1h-3zM383 568h3v1h-3zM386 567h2v1h-2zM388 566h1v1h-1zM389 567h1v2h-1zM390 569h1v2h-1zM391 571h1v2h-1zM392 573h2v1h-2zM394 572h2v1h-2zM396 571h1v1h-1zM397 572h1v1h-1zM398 573h1v1h-1zM399 574h1v1h-1zM400 575h1v1h-1zM401 574h1v1h-1zM402 573h1v1h-1zM403 572h1v1h-1zM404 571h1v1h-1zM405 569h1v2h-1zM406 567h1v2h-1zM407 565h1v2h-1zM408 564h1v1h-1zM409 565h2v1h-2zM411 566h1v1h-1zM412 567h3v1h-3zM415 566h6v1h-6zM421 565h2v1h-2zM423 564h1v1h-1zM424 563h1v1h-1zM425 564h1v1h-1zM426 565h1v2h-1zM427 567h1v1h-1zM428 568h3v1h-3zM431 569h8v1h-8zM439 570h4v1h-4zM443 571h2v1h-2zM445 570h1v1h-1zM446 569h1v1h-1zM447 568h1v1h-1zM448 567h2v1h-2zM450 568h2v1h-2zM452 569h1v2h-1zM453 571h1v3h-1zM454 574h1v3h-1zM455 577h1v3h-1zM456 580h1v2h-1zM457 582h1v2h-1zM458 584h1v2h-1zM459 586h1v2h-1zM460 587h1v2h-1zM461 584h1v3h-1zM462 582h1v2h-1zM463 579h1v3h-1zM464 577h5v1h-5zM464 578h1v1h-1zM469 578h2v1h-2zM471 579h1v1h-1zM472 580h3v1h-3zM475 581h3v1h-3zM478 582h2v1h-2zM480 583h1v1h-1zM481 584h2v1h-2zM483 585h1v1h-1zM484 586h3v1h-3zM487 585h4v1h-4zM491 586h2v1h-2zM493 587h2v1h-2zM495 588h1v1h-1zM496 589h5v1h-5zM501 590h1v1h-1zM502 591h1v2h-1zM503 593h1v1h-1zM504 594h1v1h-1zM505 593h2v1h-2zM507 592h1v1h-1zM508 591h1v1h-1zM509 589h1v2h-1zM510 587h1v2h-1zM511 585h1v2h-1zM512 584h10v1h-10zM522 585h2v1h-2zM524 586h3v1h-3zM527 585h2v1h-2zM529 586h1v1h-1zM530 587h1v2h-1zM531 589h1v1h-1zM532 590h1v1h-1zM533 591h2v1h-2zM535 592h1v1h-1zM536 593h2v1h-2zM538 594h2v1h-2zM540 595h2v1h-2zM542 596h2v1h-2zM544 597h1v1h-1zM545 598h1v2h-1zM546 600h1v1h-1zM547 601h1v2h-1zM548 603h2v1h-2zM550 602h2v1h-2zM552 601h7v1h-7zM559 600h4v1h-4zM563 599h4v1h-4zM567 600h2v1h-2zM569 598h1v2h-1zM570 596h1v2h-1zM571 594h1v2h-1zM572 593h1v1h-1zM573 591h1v2h-1zM574 590h1v1h-1zM575 588h1v2h-1zM576 586h1v2h-1zM577 584h1v2h-1zM578 582h1v2h-1zM579 580h1v2h-1zM580 579h1v1h-1zM581 580h1v1h-1zM582 581h1v1h-1zM583 582h1v1h-1zM584 583h10v1h-10zM594 582h2v1h-2zM596 581h2v1h-2zM598 582h2v1h-2zM600 583h3v1h-3zM603 584h3v1h-3zM606 583h2v1h-2zM608 582h2v1h-2zM610 581h2v1h-2zM612 580h3v1h-3zM615 581h4v1h-4zM619 580h2v1h-2zM621 578h1v2h-1zM622 576h1v2h-1zM623 574h1v2h-1zM624 573h1v1h-1zM625 572h1v1h-1zM626 571h1v1h-1zM627 570h1v1h-1zM628 569h9v1h-9zM637 568h2v1h-2zM639 567h1v1h-1zM640 566h2v1h-2zM642 565h2v1h-2zM644 564h2v1h-2zM646 563h2v1h-2zM648 562h2v1h-2zM650 561h2v1h-2zM652 560h3v1h-3zM655 559h6v1h-6zM661 558h2v1h-2zM663 557h1v1h-1zM664 556h2v1h-2zM666 555h2v1h-2zM668 554h3v1h-3zM671 553h8v1h-8zM679 552h3v1h-3zM682 553h2v1h-2zM684 554h2v1h-2zM686 553h3v1h-3zM688 552h1v1h-1zM689 554h1v2h-1zM690 556h1v2h-1zM691 558h1v2h-1zM692 560h1v3h-1zM693 563h1v2h-1zM694 565h1v2h-1zM695 567h1v2h-1zM696 569h3v1h-3zM699 570h8v1h-8zM707 571h2v1h-2zM709 572h2v1h-2zM711 573h1v1h-1zM712 574h2v1h-2zM714 573h2v1h-2zM716 572h1v1h-1zM717 573h2v1h-2zM719 574h1v1h-1zM720 575h2v1h-2zM722 576h2v1h-2zM724 577h2v1h-2zM726 578h2v1h-2zM728 579h1v1h-1zM729 580h2v1h-2zM731 581h2v1h-2zM732 582h1v1h-1zM733 579h1v2h-1zM734 576h1v3h-1zM735 574h1v2h-1zM736 572h1v2h-1zM737 571h1v1h-1zM738 569h1v2h-1zM739 568h1v1h-1zM740 567h2v1h-2zM742 566h2v1h-2zM744 565h1v1h-1zM745 564h1v1h-1zM746 562h1v2h-1zM747 561h1v1h-1zM748 560h1v1h-1zM749 559h1v1h-1zM750 557h1v2h-1zM751 556h1v1h-1zM752 555h2v1h-2zM754 556h2v1h-2zM756 557h1v1h-1zM757 558h1v1h-1zM758 559h1v1h-1zM759 560h1v1h-1zM760 561h1v2h-1zM761 563h1v2h-1zM762 565h1v2h-1zM763 567h1v2h-1zM764 569h1v1h-1zM765 568h1v1h-1zM766 567h1v1h-1zM767 566h1v1h-1zM768 565h3v1h-3zM771 564h3v1h-3zM774 563h2v1h-2zM776 562h5v1h-5zM781 560h1v2h-1zM782 558h1v2h-1zM783 556h1v2h-1zM784 554h1v2h-1zM785 552h1v2h-1zM786 550h1v2h-1zM787 548h1v2h-1zM788 547h1v1h-1zM789 548h2v1h-2zM791 549h1v1h-1zM792 550h2v1h-2zM794 549h2v1h-2zM796 548h1v1h-1zM797 547h2v1h-2zM799 546h1v1h-1zM800 545h1v1h-1zM801 546h1v2h-1zM802 548h1v1h-1zM803 549h1v2h-1zM804 551h5v1h-5zM809 550h1v1h-1zM810 549h1v1h-1zM811 548h1v1h-1zM812 547h1v1h-1zM813 546h1v1h-1zM814 545h1v1h-1zM815 544h1v1h-1zM816 543h1v1h-1zM817 544h1v1h-1zM818 545h1v1h-1zM819 546h1v1h-1zM820 547h1v1h-1zM821 548h1v1h-1zM822 549h1v2h-1zM823 551h1v1h-1zM824 552h3v1h-3zM827 553h3v1h-3zM830 552h2v1h-2zM832 551h2v1h-2zM834 552h2v1h-2zM836 553h1v2h-1zM837 555h1v2h-1zM838 557h1v2h-1zM839 559h1v2h-1zM840 561h1v3h-1zM841 564h1v3h-1zM842 567h1v4h-1zM843 571h1v3h-1zM844 574h1v2h-1zM845 575h2v1h-2zM847 574h2v1h-2zM849 575h1v1h-1zM850 576h1v2h-1zM851 578h1v1h-1zM852 579h1v1h-1zM853 577h1v2h-1zM854 576h1v1h-1zM855 574h1v2h-1zM856 573h3v1h-3zM859 574h2v1h-2zM861 573h2v1h-2zM863 572h1v1h-1zM864 571h1v1h-1zM865 572h1v1h-1zM866 573h1v1h-1zM867 574h1v1h-1zM868 575h3v1h-3zM871 574h4v1h-4zM875 573h3v1h-3zM878 574h2v1h-2zM880 575h1v1h-1zM881 576h1v1h-1zM882 577h1v2h-1zM883 579h1v1h-1zM884 580h3v1h-3zM887 579h4v1h-4zM891 580h4v1h-4zM895 581h11v1h-11zM906 582h3v1h-3zM908 583h1v1h-1zM909 580h1v2h-1zM910 578h1v2h-1zM911 576h1v2h-1zM912 575h2v1h-2zM914 574h2v1h-2zM916 573h1v1h-1zM917 574h1v1h-1zM918 575h1v2h-1zM919 577h1v1h-1zM920 578h6v1h-6zM926 577h2v1h-2zM928 576h1v1h-1zM929 575h1v1h-1zM930 573h1v2h-1zM931 572h1v1h-1zM932 571h1v1h-1zM933 572h2v1h-2zM935 573h1v1h-1zM936 574h1v1h-1zM937 575h1v1h-1zM938 576h1v2h-1zM939 578h1v1h-1zM940 579h2v1h-2zM942 578h2v1h-2zM944 577h6v1h-6zM950 578h2v1h-2zM952 579h1v1h-1zM953 580h2v1h-2zM955 581h1v1h-1zM956 582h2v1h-2zM958 583h2v1h-2zM960 584h5v1h-5zM964 583h1v1h-1zM965 581h1v2h-1zM966 579h1v2h-1zM967 577h1v2h-1zM968 576h3v1h-3zM971 577h7v1h-7zM978 578h2v1h-2zM980 579h1v1h-1zM981 578h1v1h-1zM982 577h1v1h-1zM983 576h1v1h-1zM984 575h1v1h-1zM985 576h1v2h-1zM986 578h1v2h-1zM987 580h1v2h-1zM988 582h2v1h-2zM990 583h2v1h-2zM992 584h5v1h-5zM997 583h1v1h-1zM998 581h1v2h-1zM999 580h1v1h-1zM1000 579h5v1h-5zM1005 578h1v1h-1zM1006 577h1v1h-1zM1007 576h1v1h-1zM1008 575h2v1h-2zM1010 576h2v1h-2zM1012 577h3v1h-3zM1015 576h6v1h-6zM1021 577h1v2h-1zM1022 579h1v1h-1zM1023 580h1v2h-1zM1024 582h1v1h-1zM1025 583h1v1h-1zM1026 584h1v1h-1zM1027 585h1v1h-1zM1028 586h2v1h-2zM1030 585h2v1h-2zM1032 584h2v1h-2zM1034 583h2v1h-2zM1036 582h1v1h-1zM1037 581h2v1h-2zM1039 580h1v1h-1zM1040 579h6v1h-6zM1046 580h2v1h-2zM1048 581h1v1h-1zM1049 582h1v1h-1zM1050 583h1v2h-1zM1051 585h1v1h-1zM1052 586h1v1h-1zM1053 587h2v1h-2zM1055 588h1v1h-1zM1056 589h3v1h-3zM1059 590h3v1h-3zM1062 589h2v1h-2zM1064 588h3v1h-3zM1067 589h2v1h-2zM1069 590h1v1h-1zM1070 591h1v2h-1zM1071 593h1v1h-1zM1072 594h1v1h-1zM1073 595h2v1h-2zM1075 596h1v1h-1zM1076 597h2v1h-2zM1078 598h2v1h-2zM1080 599h3v1h-3zM1083 598h3v1h-3zM1086 599h2v1h-2zM1088 600h3v1h-3zM1091 599h4v1h-4zM1095 600h2v1h-2zM1097 599h1v1h-1zM1098 598h1v1h-1zM1099 597h1v1h-1zM1100 596h2v1h-2zM1102 597h3v1h-3zM1104 598h1v1h-1zM1105 594h1v3h-1zM1106 592h1v2h-1zM1107 589h1v3h-1zM1108 587h1v2h-1zM1109 586h2v1h-2zM1111 585h1v1h-1zM1112 584h2v1h-2zM1114 583h2v1h-2zM1116 582h3v1h-3zM1119 583h3v1h-3zM1122 584h2v1h-2zM1124 585h7v1h-7zM1131 584h3v1h-3zM1134 583h2v1h-2zM1136 582h3v1h-3zM1139 583h2v1h-2zM1141 584h2v1h-2zM1143 585h1v1h-1zM1144 586h2v1h-2zM1146 587h2v1h-2zM1148 588h1v1h-1zM1149 586h1v2h-1zM1150 585h1v1h-1zM1151 583h1v2h-1zM1152 582h1v1h-1zM1153 581h1v1h-1zM1154 580h1v1h-1zM1155 579h1v1h-1zM1156 578h1v1h-1zM1157 577h2v1h-2zM1159 576h1v1h-1zM1160 575h2v1h-2zM1162 576h2v1h-2zM1164 577h3v1h-3zM1167 576h2v1h-2zM1169 577h2v1h-2zM1171 578h1v1h-1zM1172 579h1v1h-1zM1173 580h1v1h-1zM1174 581h1v1h-1zM1175 582h1v1h-1zM1176 583h3v1h-3zM1179 582h3v1h-3zM1182 583h2v1h-2zM1184 584h7v1h-7zM1191 585h2v1h-2zM1193 584h1v1h-1zM1194 583h1v1h-1zM1195 582h1v1h-1zM1196 581h1v1h-1zM1197 582h1v1h-1zM1198 583h1v1h-1zM1199 584h1v1h-1zM1200 585h1v1h-1zM1201 584h2v1h-2zM1203 583h1v1h-1zM1204 582h2v1h-2zM1206 581h2v1h-2zM1208 580h6v1h-6zM1214 581h2v1h-2zM1216 582h1v1h-1zM1217 581h2v1h-2zM1219 580h1v1h-1zM1220 579h1v1h-1zM1221 580h1v2h-1zM1222 582h1v1h-1zM1223 583h1v2h-1zM1224 585h5v1h-5zM1229 584h1v1h-1zM1230 583h1v1h-1zM1231 582h1v1h-1zM1232 581h3v1h-3zM1235 580h2v1h-2zM1237 581h2v1h-2zM1239 582h1v1h-1zM1240 583h1v1h-1zM1241 584h1v2h-1zM1242 586h1v1h-1zM1243 587h1v2h-1zM1244 589h1v1h-1zM1245 590h1v1h-1zM1246 591h1v1h-1zM1247 592h1v1h-1zM1248 593h2v1h-2zM1250 594h2v1h-2zM1252 595h1v1h-1zM1253 594h1v1h-1zM1254 592h1v2h-1zM1255 591h1v1h-1zM1256 590h3v1h-3zM1259 589h3v1h-3zM1262 590h2v1h-2zM1264 591h1v1h-1zM1265 592h2v1h-2zM1267 593h1v1h-1zM1268 594h1v1h-1z" fill="#1e90ff" shape-rendering="crispEdges"/>
<text x="8.5" y="545" font-size="9.6" fill="#000" stroke="#000" stroke-width="0.15" textLength="67.5" lengthAdjust="spacingAndGlyphs" >RSI(14) 32.8588</text>
<path d="M4 687h1v1h-1zM8 687h1v1h-1zM12 687h1v1h-1zM16 687h1v1h-1zM20 686h1v1h-1zM24 686h1v1h-1zM28 686h1v1h-1zM32 685h1v2h-1zM36 685h1v2h-1zM40 684h1v3h-1zM44 683h1v4h-1zM48 682h1v5h-1zM52 682h1v5h-1zM56 681h1v6h-1zM60 681h1v6h-1zM64 681h1v6h-1zM68 681h1v6h-1zM72 680h1v7h-1zM76 680h1v7h-1zM80 680h1v7h-1zM84 680h1v7h-1zM88 680h1v7h-1zM92 679h1v8h-1zM96 679h1v8h-1zM100 679h1v8h-1zM104 679h1v8h-1zM108 680h1v7h-1zM112 680h1v7h-1zM116 680h1v7h-1zM120 680h1v7h-1zM124 680h1v7h-1zM128 681h1v6h-1zM132 681h1v6h-1zM136 681h1v6h-1zM140 682h1v5h-1zM144 682h1v5h-1zM148 683h1v4h-1zM152 684h1v3h-1zM156 686h1v1h-1zM160 687h1v1h-1zM164 687h1v2h-1zM168 687h1v1h-1zM172 687h1v1h-1zM176 687h1v1h-1zM180 687h1v1h-1zM184 687h1v1h-1zM188 687h1v1h-1zM192 687h1v1h-1zM196 687h1v1h-1zM200 686h1v1h-1zM204 686h1v1h-1zM208 686h1v1h-1zM212 686h1v1h-1zM216 686h1v1h-1zM220 686h1v1h-1zM224 686h1v1h-1zM228 686h1v1h-1zM232 685h1v2h-1zM236 685h1v2h-1zM240 685h1v2h-1zM244 685h1v2h-1zM248 684h1v3h-1zM252 684h1v3h-1zM256 684h1v3h-1zM260 684h1v3h-1zM264 683h1v4h-1zM268 683h1v4h-1zM272 683h1v4h-1zM276 684h1v3h-1zM280 685h1v2h-1zM284 685h1v2h-1zM288 687h1v1h-1zM292 687h1v1h-1zM296 687h1v1h-1zM300 687h1v2h-1zM304 687h1v3h-1zM308 687h1v4h-1zM312 687h1v5h-1zM316 687h1v6h-1zM320 687h1v6h-1zM324 687h1v7h-1zM328 687h1v7h-1zM332 687h1v7h-1zM336 687h1v7h-1zM340 687h1v7h-1zM344 687h1v6h-1zM348 687h1v5h-1zM352 687h1v5h-1zM356 687h1v4h-1zM360 687h1v3h-1zM364 687h1v2h-1zM368 687h1v2h-1zM372 687h1v1h-1zM376 687h1v1h-1zM380 686h1v1h-1zM384 686h1v1h-1zM388 685h1v2h-1zM392 685h1v2h-1zM396 684h1v3h-1zM400 684h1v3h-1zM404 683h1v4h-1zM408 683h1v4h-1zM412 682h1v5h-1zM416 682h1v5h-1zM420 682h1v5h-1zM424 681h1v6h-1zM428 681h1v6h-1zM432 681h1v6h-1zM436 681h1v6h-1zM440 681h1v6h-1zM444 681h1v6h-1zM448 682h1v5h-1zM452 682h1v5h-1zM456 683h1v4h-1zM460 684h1v3h-1zM464 684h1v3h-1zM468 685h1v2h-1zM472 685h1v2h-1zM476 686h1v1h-1zM480 686h1v1h-1zM484 687h1v1h-1zM488 687h1v1h-1zM492 687h1v1h-1zM496 687h1v1h-1zM500 687h1v1h-1zM504 687h1v2h-1zM508 687h1v2h-1zM512 687h1v2h-1zM516 687h1v3h-1zM520 687h1v3h-1zM524 687h1v3h-1zM528 687h1v3h-1zM532 687h1v3h-1zM536 687h1v4h-1zM540 687h1v4h-1zM544 687h1v6h-1zM548 687h1v7h-1zM552 687h1v8h-1zM556 687h1v8h-1zM560 687h1v9h-1zM564 687h1v9h-1zM568 687h1v9h-1zM572 687h1v9h-1zM576 687h1v9h-1zM580 687h1v8h-1zM584 687h1v7h-1zM588 687h1v6h-1zM592 687h1v5h-1zM596 687h1v4h-1zM600 687h1v4h-1zM604 687h1v3h-1zM608 687h1v3h-1zM612 687h1v3h-1zM616 687h1v3h-1zM620 687h1v2h-1zM624 687h1v1h-1zM628 687h1v1h-1zM632 686h1v1h-1zM636 685h1v2h-1zM640 684h1v3h-1zM644 683h1v4h-1zM648 683h1v4h-1zM652 682h1v5h-1zM656 681h1v6h-1zM660 680h1v7h-1zM664 680h1v7h-1zM668 679h1v8h-1zM672 679h1v8h-1zM676 678h1v9h-1zM680 677h1v10h-1zM684 677h1v10h-1zM688 677h1v10h-1zM692 677h1v10h-1zM696 677h1v10h-1zM700 678h1v9h-1zM704 679h1v8h-1zM708 680h1v7h-1zM712 680h1v7h-1zM716 681h1v6h-1zM720 682h1v5h-1zM724 683h1v4h-1zM728 683h1v4h-1zM732 684h1v3h-1zM736 684h1v3h-1zM740 683h1v4h-1zM744 682h1v5h-1zM748 681h1v6h-1zM752 681h1v6h-1zM756 680h1v7h-1zM760 679h1v8h-1zM764 679h1v8h-1zM768 679h1v8h-1zM772 678h1v9h-1zM776 678h1v9h-1zM780 676h1v11h-1zM784 674h1v13h-1zM788 672h1v15h-1zM792 668h1v19h-1zM796 664h1v23h-1zM800 661h1v26h-1zM804 658h1v29h-1zM808 656h1v31h-1zM812 652h1v35h-1zM816 646h1v41h-1zM820 640h1v47h-1zM824 637h1v50h-1zM828 635h1v52h-1zM832 634h1v53h-1zM836 633h1v54h-1zM840 636h1v51h-1zM844 641h1v46h-1zM848 648h1v39h-1zM852 653h1v34h-1zM856 655h1v32h-1zM860 658h1v29h-1zM864 659h1v28h-1zM868 662h1v25h-1zM872 664h1v23h-1zM876 665h1v22h-1zM880 668h1v19h-1zM884 671h1v16h-1zM888 674h1v13h-1zM892 677h1v10h-1zM896 679h1v8h-1zM900 681h1v6h-1zM904 683h1v4h-1zM908 685h1v2h-1zM912 685h1v2h-1zM916 683h1v4h-1zM920 682h1v5h-1zM924 682h1v5h-1zM928 682h1v5h-1zM932 682h1v5h-1zM936 682h1v5h-1zM940 682h1v5h-1zM944 682h1v5h-1zM948 682h1v5h-1zM952 683h1v4h-1zM956 684h1v3h-1zM960 685h1v2h-1zM964 686h1v1h-1zM968 686h1v1h-1zM972 686h1v1h-1zM976 686h1v1h-1zM980 686h1v1h-1zM984 686h1v1h-1zM988 686h1v1h-1zM992 687h1v1h-1zM996 687h1v1h-1zM1000 687h1v1h-1zM1004 687h1v1h-1zM1008 687h1v1h-1zM1012 687h1v1h-1zM1016 687h1v1h-1zM1020 687h1v1h-1zM1024 687h1v1h-1zM1028 687h1v1h-1zM1032 687h1v1h-1zM1036 687h1v1h-1zM1040 687h1v1h-1zM1044 687h1v1h-1zM1048 687h1v2h-1zM1052 687h1v3h-1zM1056 687h1v5h-1zM1060 687h1v7h-1zM1064 687h1v8h-1zM1068 687h1v10h-1zM1072 687h1v13h-1zM1076 687h1v15h-1zM1080 687h1v17h-1zM1084 687h1v19h-1zM1088 687h1v22h-1zM1092 687h1v23h-1zM1096 687h1v25h-1zM1100 687h1v25h-1zM1104 687h1v25h-1zM1108 687h1v22h-1zM1112 687h1v20h-1zM1116 687h1v18h-1zM1120 687h1v16h-1zM1124 687h1v15h-1zM1128 687h1v13h-1zM1132 687h1v12h-1zM1136 687h1v11h-1zM1140 687h1v10h-1zM1144 687h1v9h-1zM1148 687h1v8h-1zM1152 687h1v7h-1zM1156 687h1v5h-1zM1160 687h1v4h-1zM1164 687h1v2h-1zM1168 687h1v1h-1zM1172 687h1v2h-1zM1176 687h1v2h-1zM1180 687h1v2h-1zM1184 687h1v2h-1zM1188 687h1v2h-1zM1192 687h1v2h-1zM1196 687h1v2h-1zM1200 687h1v2h-1zM1204 687h1v2h-1zM1208 687h1v2h-1zM1212 687h1v2h-1zM1216 687h1v2h-1zM1220 687h1v2h-1zM1224 687h1v2h-1zM1228 687h1v2h-1zM1232 687h1v2h-1zM1236 687h1v2h-1zM1240 687h1v3h-1zM1244 687h1v4h-1zM1248 687h1v5h-1zM1252 687h1v6h-1zM1256 687h1v6h-1zM1260 687h1v7h-1zM1264 687h1v8h-1zM1268 687h1v8h-1z" fill="#c0c0c0" shape-rendering="crispEdges"/>
<path d="M4 693h3v1h-3zM10 692h1v1h-1zM11 691h2v1h-2zM16 690h3v1h-3zM22 689h1v1h-1zM23 688h2v1h-2zM28 687h3v1h-3zM34 686h3v1h-3zM40 685h3v1h-3zM46 684h3v1h-3zM52 683h3v1h-3zM58 682h3v1h-3zM64 682h3v1h-3zM70 681h3v1h-3zM76 680h3v1h-3zM82 680h3v1h-3zM88 680h3v1h-3zM94 680h3v1h-3zM100 680h3v1h-3zM106 680h1v1h-1zM107 679h2v1h-2zM112 679h3v1h-3zM118 679h1v1h-1zM119 680h2v1h-2zM124 680h3v1h-3zM130 680h3v1h-3zM136 681h3v1h-3zM142 681h3v1h-3zM148 681h3v1h-3zM154 682h3v1h-3zM160 683h3v1h-3zM166 684h1v1h-1zM167 685h2v1h-2zM172 686h3v1h-3zM178 687h3v1h-3zM184 688h3v1h-3zM190 688h3v1h-3zM196 687h3v1h-3zM202 687h3v1h-3zM208 686h3v1h-3zM214 686h3v1h-3zM220 686h3v1h-3zM226 686h3v1h-3zM232 686h3v1h-3zM238 686h1v1h-1zM239 685h2v1h-2zM244 685h3v1h-3zM250 685h3v1h-3zM256 684h3v1h-3zM262 684h3v1h-3zM268 684h3v1h-3zM274 683h3v1h-3zM280 684h3v1h-3zM286 684h1v1h-1zM287 685h2v1h-2zM292 686h3v1h-3zM298 686h1v1h-1zM299 687h2v1h-2zM304 688h2v1h-2zM306 689h1v1h-1zM310 690h1v1h-1zM311 691h2v1h-2zM316 692h3v1h-3zM322 693h3v1h-3zM328 694h3v1h-3zM334 694h3v1h-3zM340 694h3v1h-3zM346 694h3v1h-3zM352 693h3v1h-3zM358 693h1v1h-1zM359 692h2v1h-2zM364 691h3v1h-3zM370 690h1v1h-1zM371 689h2v1h-2zM376 688h3v1h-3zM382 688h1v1h-1zM383 687h2v1h-2zM388 687h3v1h-3zM394 686h1v1h-1zM395 685h2v1h-2zM400 685h3v1h-3zM406 684h3v1h-3zM412 683h3v1h-3zM418 682h3v1h-3zM424 682h3v1h-3zM430 682h1v1h-1zM431 681h2v1h-2zM436 681h3v1h-3zM442 681h1v1h-1zM443 680h2v1h-2zM448 680h3v1h-3zM454 680h1v1h-1zM455 681h2v1h-2zM460 681h3v1h-3zM466 681h1v1h-1zM467 682h2v1h-2zM472 682h3v1h-3zM478 683h3v1h-3zM484 684h3v1h-3zM490 685h3v1h-3zM496 686h3v1h-3zM502 687h3v1h-3zM508 688h3v1h-3zM514 688h1v1h-1zM515 689h2v1h-2zM520 689h3v1h-3zM526 689h1v1h-1zM527 690h2v1h-2zM532 690h3v1h-3zM538 690h1v1h-1zM539 691h2v1h-2zM544 691h3v1h-3zM550 692h3v1h-3zM556 693h3v1h-3zM562 694h3v1h-3zM568 695h3v1h-3zM574 695h3v1h-3zM580 695h3v1h-3zM586 695h3v1h-3zM592 694h3v1h-3zM598 694h1v1h-1zM599 693h2v1h-2zM604 692h3v1h-3zM610 692h1v1h-1zM611 691h2v1h-2zM616 691h3v1h-3zM622 690h3v1h-3zM628 689h3v1h-3zM634 689h1v1h-1zM635 688h2v1h-2zM640 687h3v1h-3zM646 686h1v1h-1zM647 685h2v1h-2zM652 684h3v1h-3zM658 684h1v1h-1zM659 683h2v1h-2zM664 682h3v1h-3zM670 681h1v1h-1zM671 680h2v1h-2zM676 679h3v1h-3zM682 678h1v1h-1zM683 677h2v1h-2zM688 677h3v1h-3zM694 676h3v1h-3zM700 676h3v1h-3zM706 676h1v1h-1zM707 677h2v1h-2zM712 677h3v1h-3zM718 678h1v1h-1zM719 679h2v1h-2zM724 679h3v1h-3zM730 680h1v1h-1zM731 681h2v1h-2zM736 681h3v1h-3zM742 681h3v1h-3zM748 681h3v1h-3zM754 681h3v1h-3zM760 680h3v1h-3zM766 680h3v1h-3zM772 679h3v1h-3zM778 679h1v1h-1zM779 678h2v1h-2zM784 677h3v1h-3zM790 676h1v1h-1zM791 675h2v1h-2zM796 673h2v1h-2zM798 672h1v1h-1zM802 670h2v1h-2zM804 669h1v1h-1zM808 666h1v1h-1zM809 665h2v1h-2zM814 662h1v1h-1zM815 661h1v1h-1zM816 660h1v1h-1zM820 656h1v1h-1zM821 655h2v1h-2zM826 651h1v1h-1zM827 650h1v1h-1zM828 649h1v1h-1zM832 646h1v1h-1zM833 645h2v1h-2zM838 641h1v1h-1zM839 640h1v1h-1zM840 639h1v1h-1zM844 638h3v1h-3zM850 637h1v1h-1zM851 638h2v1h-2zM856 640h2v1h-2zM858 641h1v1h-1zM862 643h1v1h-1zM863 644h1v1h-1zM864 645h1v1h-1zM868 649h1v1h-1zM869 650h2v1h-2zM874 653h1v1h-1zM875 654h1v1h-1zM876 655h1v1h-1zM880 658h2v1h-2zM882 659h1v1h-1zM886 661h1v1h-1zM887 662h1v1h-1zM888 663h1v1h-1zM892 665h1v1h-1zM893 666h2v1h-2zM898 669h1v1h-1zM899 670h1v1h-1zM900 671h1v1h-1zM904 673h2v1h-2zM906 674h1v1h-1zM910 676h2v1h-2zM912 677h1v1h-1zM916 679h3v1h-3zM922 681h2v1h-2zM924 682h1v1h-1zM928 682h3v1h-3zM934 682h3v1h-3zM940 682h3v1h-3zM946 681h3v1h-3zM952 681h3v1h-3zM958 682h3v1h-3zM964 682h3v1h-3zM970 683h1v1h-1zM971 684h2v1h-2zM976 684h3v1h-3zM982 685h3v1h-3zM988 686h3v1h-3zM994 686h3v1h-3zM1000 687h3v1h-3zM1006 687h3v1h-3zM1012 687h3v1h-3zM1018 687h1v1h-1zM1019 686h2v1h-2zM1024 686h3v1h-3zM1030 686h1v1h-1zM1031 687h2v1h-2zM1036 687h3v1h-3zM1042 687h3v1h-3zM1048 687h3v1h-3zM1054 689h2v1h-2zM1056 690h1v1h-1zM1060 691h3v1h-3zM1066 692h1v1h-1zM1067 693h2v1h-2zM1072 694h3v1h-3zM1078 695h1v1h-1zM1079 696h2v1h-2zM1084 698h2v1h-2zM1086 699h1v1h-1zM1090 701h1v1h-1zM1091 702h1v1h-1zM1092 703h1v1h-1zM1096 705h3v1h-3zM1102 707h2v1h-2zM1104 708h1v1h-1zM1108 710h3v1h-3zM1114 710h1v1h-1zM1115 711h2v1h-2zM1120 711h3v1h-3zM1126 710h1v1h-1zM1127 709h2v1h-2zM1132 707h3v1h-3zM1138 705h2v1h-2zM1140 704h1v1h-1zM1144 702h3v1h-3zM1150 700h2v1h-2zM1152 699h1v1h-1zM1156 698h2v1h-2zM1158 697h1v1h-1zM1162 696h1v1h-1zM1163 695h2v1h-2zM1168 695h3v1h-3zM1174 694h1v1h-1zM1175 693h2v1h-2zM1180 692h3v1h-3zM1186 691h1v1h-1zM1187 690h2v1h-2zM1192 690h3v1h-3zM1198 690h1v1h-1zM1199 689h2v1h-2zM1204 689h3v1h-3zM1210 689h3v1h-3zM1216 689h3v1h-3zM1222 689h3v1h-3zM1228 689h3v1h-3zM1234 689h3v1h-3zM1240 690h3v1h-3zM1246 690h3v1h-3zM1252 691h3v1h-3zM1258 691h1v1h-1zM1259 692h2v1h-2zM1264 692h3v1h-3z" fill="#ff0000" shape-rendering="crispEdges"/>
<text x="8" y="639" font-size="9.6" fill="#000" stroke="#000" stroke-width="0.15" textLength="154" lengthAdjust="spacingAndGlyphs" >MACD(12,26,9) -0.005995 -0.003998</text>
<rect x="4" y="719" width="1" height="3" fill="#000" shape-rendering="crispEdges"/>
<text x="3.5" y="731" font-size="9.6" fill="#000" stroke="#000" stroke-width="0.15" textLength="46.7" lengthAdjust="spacingAndGlyphs" >25 Jul 2019</text>
<rect x="68" y="719" width="1" height="3" fill="#000" shape-rendering="crispEdges"/>
<text x="67.5" y="731" font-size="9.6" fill="#000" stroke="#000" stroke-width="0.15" textLength="52.4" lengthAdjust="spacingAndGlyphs" >13 Aug 2019</text>
<rect x="132" y="719" width="1" height="3" fill="#000" shape-rendering="crispEdges"/>
<text x="131.5" y="731" font-size="9.6" fill="#000" stroke="#000" stroke-width="0.15" textLength="52.4" lengthAdjust="spacingAndGlyphs" >31 Aug 2019</text>
<rect x="196" y="719" width="1" height="3" fill="#000" shape-rendering="crispEdges"/>
<text x="195.5" y="731" font-size="9.6" fill="#000" stroke="#000" stroke-width="0.15" textLength="51.7" lengthAdjust="spacingAndGlyphs" >19 Sep 2019</text>
<rect x="260" y="719" width="1" height="3" fill="#000" shape-rendering="crispEdges"/>
<text x="259.5" y="731" font-size="9.6" fill="#000" stroke="#000" stroke-width="0.15" textLength="45" lengthAdjust="spacingAndGlyphs" >8 Oct 2019</text>
<rect x="324" y="719" width="1" height="3" fill="#000" shape-rendering="crispEdges"/>
<text x="323.5" y="731" font-size="9.6" fill="#000" stroke="#000" stroke-width="0.15" textLength="50.8" lengthAdjust="spacingAndGlyphs" >26 Oct 2019</text>
<rect x="388" y="719" width="1" height="3" fill="#000" shape-rendering="crispEdges"/>
<text x="387.5" y="731" font-size="9.6" fill="#000" stroke="#000" stroke-width="0.15" textLength="53.3" lengthAdjust="spacingAndGlyphs" >14 Nov 2019</text>
<rect x="452" y="719" width="1" height="3" fill="#000" shape-rendering="crispEdges"/>
<text x="451.5" y="731" font-size="9.6" fill="#000" stroke="#000" stroke-width="0.15" textLength="46.6" lengthAdjust="spacingAndGlyphs" >3 Dec 2019</text>
<rect x="516" y="719" width="1" height="3" fill="#000" shape-rendering="crispEdges"/>
<text x="515.5" y="731" font-size="9.6" fill="#000" stroke="#000" stroke-width="0.15" textLength="52" lengthAdjust="spacingAndGlyphs" >21 Dec 2019</text>
<rect x="580" y="719" width="1" height="3" fill="#000" shape-rendering="crispEdges"/>
<text x="579.5" y="731" font-size="9.6" fill="#000" stroke="#000" stroke-width="0.15" textLength="44.7" lengthAdjust="spacingAndGlyphs" >9 Jan 2020</text>
<rect x="644" y="719" width="1" height="3" fill="#000" shape-rendering="crispEdges"/>
<text x="643.5" y="731" font-size="9.6" fill="#000" stroke="#000" stroke-width="0.15" textLength="49.3" lengthAdjust="spacingAndGlyphs" >28 Jan 2020</text>
<rect x="708" y="719" width="1" height="3" fill="#000" shape-rendering="crispEdges"/>
<text x="707.5" y="731" font-size="9.6" fill="#000" stroke="#000" stroke-width="0.15" textLength="51.3" lengthAdjust="spacingAndGlyphs" >15 Feb 2020</text>
<rect x="772" y="719" width="1" height="3" fill="#000" shape-rendering="crispEdges"/>
<text x="771.5" y="731" font-size="9.6" fill="#000" stroke="#000" stroke-width="0.15" textLength="46.7" lengthAdjust="spacingAndGlyphs" >5 Mar 2020</text>
<rect x="836" y="719" width="1" height="3" fill="#000" shape-rendering="crispEdges"/>
<text x="835.5" y="731" font-size="9.6" fill="#000" stroke="#000" stroke-width="0.15" textLength="51.6" lengthAdjust="spacingAndGlyphs" >24 Mar 2020</text>
<rect x="900" y="719" width="1" height="3" fill="#000" shape-rendering="crispEdges"/>
<text x="899.5" y="731" font-size="9.6" fill="#000" stroke="#000" stroke-width="0.15" textLength="50" lengthAdjust="spacingAndGlyphs" >11 Apr 2020</text>
<rect x="964" y="719" width="1" height="3" fill="#000" shape-rendering="crispEdges"/>
<text x="963.5" y="731" font-size="9.6" fill="#000" stroke="#000" stroke-width="0.15" textLength="50.3" lengthAdjust="spacingAndGlyphs" >30 Apr 2020</text>
<rect x="1028" y="719" width="1" height="3" fill="#000" shape-rendering="crispEdges"/>
<text x="1027.5" y="731" font-size="9.6" fill="#000" stroke="#000" stroke-width="0.15" textLength="54" lengthAdjust="spacingAndGlyphs" >19 May 2020</text>
<rect x="1092" y="719" width="1" height="3" fill="#000" shape-rendering="crispEdges"/>
<text x="1091.5" y="731" font-size="9.6" fill="#000" stroke="#000" stroke-width="0.15" textLength="45" lengthAdjust="spacingAndGlyphs" >6 Jun 2020</text>
<rect x="1156" y="719" width="1" height="3" fill="#000" shape-rendering="crispEdges"/>
<text x="1155.5" y="731" font-size="9.6" fill="#000" stroke="#000" stroke-width="0.15" textLength="50.2" lengthAdjust="spacingAndGlyphs" >25 Jun 2020</text>
<rect x="1220" y="719" width="1" height="3" fill="#000" shape-rendering="crispEdges"/>
<text x="1219.5" y="731" font-size="9.6" fill="#000" stroke="#000" stroke-width="0.15" textLength="46.4" lengthAdjust="spacingAndGlyphs" >14 Jul 2020</text>
</g>
<g font-family='"Liberation Sans", sans-serif'>
<g shape-rendering="crispEdges">
<rect x="28" y="0" width="1" height="20" fill="#a0a0a0" />
<rect x="29" y="0" width="1" height="20" fill="#fff" />
<rect x="32" y="0" width="3" height="1" fill="#b0b0b0" />
<rect x="32" y="2" width="3" height="1" fill="#b0b0b0" />
<rect x="32" y="4" width="3" height="1" fill="#b0b0b0" />
<rect x="32" y="6" width="3" height="1" fill="#b0b0b0" />
<rect x="32" y="8" width="3" height="1" fill="#b0b0b0" />
<rect x="32" y="10" width="3" height="1" fill="#b0b0b0" />
<rect x="32" y="12" width="3" height="1" fill="#b0b0b0" />
<rect x="32" y="14" width="3" height="1" fill="#b0b0b0" />
<rect x="32" y="16" width="3" height="1" fill="#b0b0b0" />
<rect x="206" y="0" width="1" height="18" fill="#a0a0a0" />
<rect x="207" y="0" width="25" height="18" fill="#f8f8f8" />
<rect x="289" y="0" width="1" height="20" fill="#a0a0a0" />
<rect x="290" y="0" width="1" height="20" fill="#fff" />
</g>
<path d="M-0.5 12L4.6 6.4" stroke="#555" stroke-width="1.5" fill="none"/>
<path d="M0 2.8L3 5.4L0 6.4z" fill="#555"/>
<path d="M3 11.3H5.3V10.2H7.8V11.3H10L6.5 15z" fill="#555"/>
<path d="M17 7h5v1h-5zM18 8h3v1h-3zM19 9h1v1h-1z" fill="#000" shape-rendering="crispEdges"/>
<text x="43.9" y="12" font-size="9.6" fill="#404040" textLength="12.2" lengthAdjust="spacingAndGlyphs" >M1</text>
<text x="72" y="12" font-size="9.6" fill="#404040" textLength="12" lengthAdjust="spacingAndGlyphs" >M5</text>
<text x="98" y="12" font-size="9.6" fill="#404040" textLength="17" lengthAdjust="spacingAndGlyphs" >M15</text>
<text x="126" y="12" font-size="9.6" fill="#404040" textLength="17" lengthAdjust="spacingAndGlyphs" >M30</text>
<text x="156.6" y="12" font-size="9.6" fill="#404040" textLength="11.7" lengthAdjust="spacingAndGlyphs" >H1</text>
<text x="183.8" y="12" font-size="9.6" fill="#404040" textLength="12.1" lengthAdjust="spacingAndGlyphs" >H4</text>
<text x="212.8" y="12" font-size="9.6" fill="#404040" textLength="11.3" lengthAdjust="spacingAndGlyphs" >D1</text>
<text x="240.4" y="12" font-size="9.6" fill="#404040" textLength="13.7" lengthAdjust="spacingAndGlyphs" >W1</text>
<text x="267" y="12" font-size="9.6" fill="#404040" textLength="14.4" lengthAdjust="spacingAndGlyphs" >MN</text>
</g>
<g font-family='"Liberation Sans", sans-serif'>
<g shape-rendering="crispEdges">
<rect x="0" y="739" width="1636" height="1" fill="#e3e3e3" />
<rect x="0" y="740" width="1636" height="1" fill="#f0f0f0" />
<rect x="0" y="741" width="1636" height="20" fill="#f0f0f0" />
<rect x="0" y="741" width="1636" height="1" fill="#000" />
<rect x="0" y="761" width="1636" height="2" fill="#fafafa" />
<rect x="0" y="763" width="1636" height="1" fill="#f0f0f0" />
<rect x="0" y="741" width="1" height="20" fill="#000" />
<rect x="313" y="740" width="104" height="20" fill="#fff" />
<rect x="313" y="741" width="1" height="19" fill="#000" />
<rect x="416" y="741" width="1" height="19" fill="#000" />
<rect x="313" y="759" width="104" height="1" fill="#000" />
<rect x="417" y="743" width="1" height="18" fill="#a0a0a0" />
<rect x="315" y="760" width="103" height="1" fill="#a0a0a0" />
<rect x="109" y="744" width="1" height="14" fill="#555" />
<rect x="209" y="744" width="1" height="14" fill="#555" />
<rect x="521" y="744" width="1" height="14" fill="#555" />
<rect x="621" y="744" width="1" height="14" fill="#555" />
<rect x="721" y="744" width="1" height="14" fill="#555" />
<rect x="825" y="744" width="1" height="14" fill="#555" />
<rect x="897" y="744" width="1" height="14" fill="#555" />
<rect x="977" y="744" width="1" height="14" fill="#555" />
<rect x="1057" y="744" width="1" height="14" fill="#555" />
<rect x="1137" y="744" width="1" height="14" fill="#555" />
<rect x="1213" y="744" width="1" height="14" fill="#555" />
<rect x="1297" y="744" width="1" height="14" fill="#555" />
<rect x="1381" y="744" width="1" height="14" fill="#555" />
<rect x="1461" y="744" width="1" height="14" fill="#555" />
<rect x="1561" y="744" width="1" height="14" fill="#555" />
</g>
<text x="17.3" y="756" font-size="12" fill="#707070" textLength="80.0" lengthAdjust="spacingAndGlyphs" >EURUSD,Daily</text>
<text x="119.3" y="756" font-size="12" fill="#707070" textLength="78.9" lengthAdjust="spacingAndGlyphs" >USDCHF,Daily</text>
<text x="219.9" y="756" font-size="12" fill="#707070" textLength="82.3" lengthAdjust="spacingAndGlyphs" >AUDUSD,Daily</text>
<text x="427.4" y="756" font-size="12" fill="#707070" textLength="82.3" lengthAdjust="spacingAndGlyphs" >USDCNH,Daily</text>
<text x="532.3" y="756" font-size="12" fill="#707070" textLength="77.7" lengthAdjust="spacingAndGlyphs" >EURUSD,M15</text>
<text x="632.3" y="756" font-size="12" fill="#707070" textLength="77.6" lengthAdjust="spacingAndGlyphs" >GBPUSD,M30</text>
<text x="732.2" y="756" font-size="12" fill="#707070" textLength="81.0" lengthAdjust="spacingAndGlyphs" >XAUUSD,Daily</text>
<text x="836.5" y="756" font-size="12" fill="#707070" textLength="49.0" lengthAdjust="spacingAndGlyphs" >HK50,H1</text>
<text x="908.1" y="756" font-size="12" fill="#707070" textLength="56.0" lengthAdjust="spacingAndGlyphs" >UK100,H1</text>
<text x="988.1" y="756" font-size="12" fill="#707070" textLength="55.9" lengthAdjust="spacingAndGlyphs" >UK100,H1</text>
<text x="1068" y="756" font-size="12" fill="#707070" textLength="56.4" lengthAdjust="spacingAndGlyphs" >GER30,H1</text>
<text x="1147.4" y="756" font-size="12" fill="#707070" textLength="54.4" lengthAdjust="spacingAndGlyphs" >FRA40,H1</text>
<text x="1223.5" y="756" font-size="12" fill="#707070" textLength="62.8" lengthAdjust="spacingAndGlyphs" >USOil,Daily</text>
<text x="1307.6" y="756" font-size="12" fill="#707070" textLength="62.1" lengthAdjust="spacingAndGlyphs" >USDJPY,H1</text>
<text x="1392" y="756" font-size="12" fill="#707070" textLength="56.8" lengthAdjust="spacingAndGlyphs" >DJ30,M15</text>
<text x="1471.2" y="756" font-size="12" fill="#707070" textLength="78.8" lengthAdjust="spacingAndGlyphs" >CHINA300,H4</text>
<text x="323.8" y="756" font-size="12" fill="#000" textLength="81" lengthAdjust="spacingAndGlyphs" >USDCAD,Daily</text>
<path d="M1615.5 747v6.4l-3.8-3.2z" fill="#a0a0a0"/><path d="M1630.8 747v6.4l3.6-3.2z" fill="#a0a0a0"/>
</g></svg>
</body></html>
